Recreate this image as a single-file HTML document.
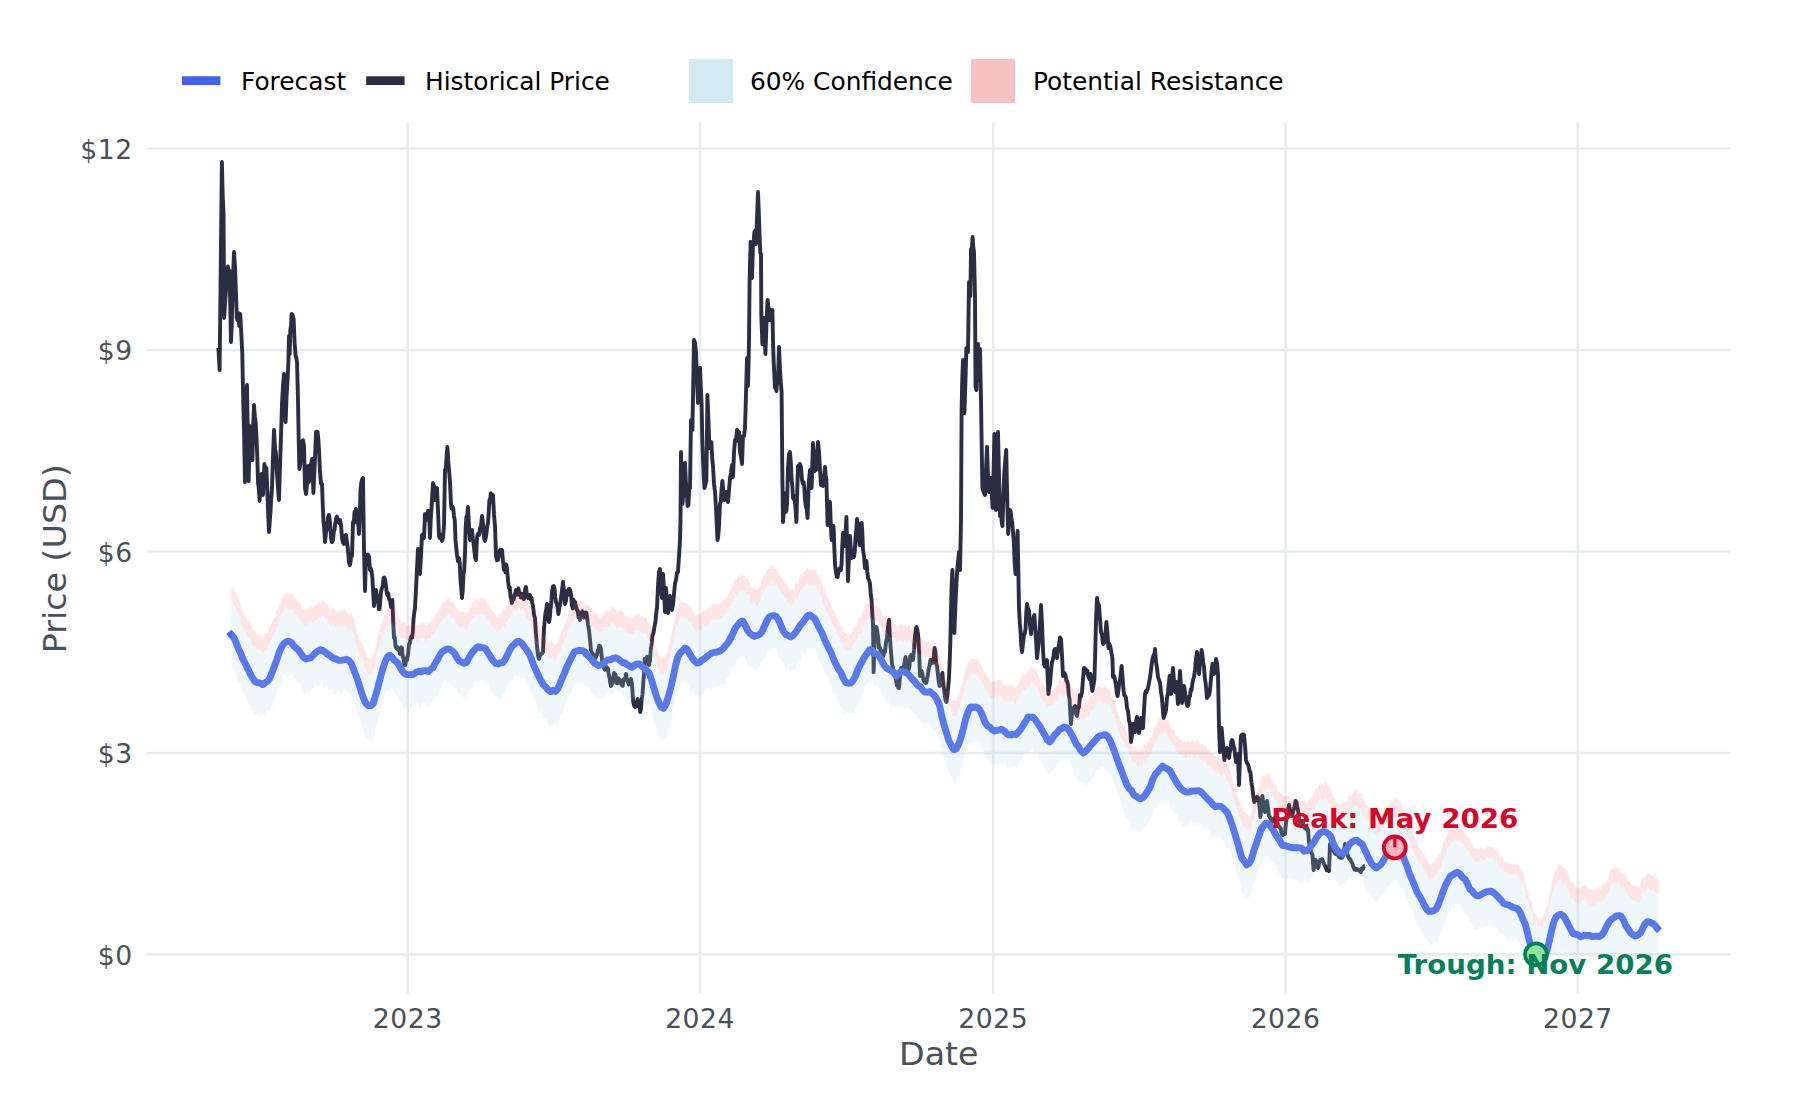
<!DOCTYPE html>
<html lang="en"><head><meta charset="utf-8"><title>Price Forecast</title>
<style>html,body{margin:0;padding:0;background:#fff}svg{display:block}</style></head>
<body>
<svg width="1800" height="1100" viewBox="0 0 1800 1100" font-family="'DejaVu Sans','Liberation Sans',sans-serif">
<rect width="1800" height="1100" fill="#fff"/>
<g stroke="#e9ecef" stroke-width="2.6" fill="none">
<line x1="146.8" x2="1730.6" y1="148.5" y2="148.5"/>
<line x1="146.8" x2="1730.6" y1="350" y2="350"/>
<line x1="146.8" x2="1730.6" y1="551.5" y2="551.5"/>
<line x1="146.8" x2="1730.6" y1="753" y2="753"/>
<line x1="146.8" x2="1730.6" y1="954.4" y2="954.4"/>
<line x1="407.7" x2="407.7" y1="122.6" y2="993.7"/>
<line x1="700.05" x2="700.05" y1="122.6" y2="993.7"/>
<line x1="993.2" x2="993.2" y1="122.6" y2="993.7"/>
<line x1="1285.55" x2="1285.55" y1="122.6" y2="993.7"/>
<line x1="1577.9" x2="1577.9" y1="122.6" y2="993.7"/>
</g>
<polyline points="218.4,348 219.6,370 220.4,299.9 221.1,232.4 221.9,162 222.7,195.2 223.5,213 224.2,318 224.9,306 225.6,295.1 226.3,284.9 227,272 227.9,266.5 228.7,271.5 229.6,271 230.3,308.5 231,342 231.8,324 232.5,290.6 233.2,271.3 234,252 235,266.3 236,294 236.8,318 237.5,320.3 238.2,313 239.2,326 240.2,314 241.3,334 242.3,354 243.2,399.3 244.1,433.5 245,482 246,439.7 247,385 247.8,439 248.6,481 249.3,455.4 250,426 250.8,438.8 251.6,444.4 252.4,460 253.2,426.3 254,405 254.9,417 255.7,422.6 256.6,440 257.3,457.2 258,482 258.8,488.5 259.6,501 260.6,482 261.6,474 262.3,484.1 263,495 263.7,478.8 264.4,464 265.4,470.2 266.4,468 267.3,489.6 268.1,512.2 269,532 269.8,521 270.5,511.8 271.2,498.5 272,488 273,456.3 274,430 275,448.3 276,454 276.8,471.5 277.5,481 278.2,490.9 279,500 280,465.8 281,436 282,404 283,385.3 284,374 284.8,395.1 285.6,422 286.6,395.2 287.6,380 288.4,362 289,336 289.7,354 290.3,330 291,326.1 291.6,314 292.6,315 293.6,319 294.6,342.7 295.6,356 296.3,357.4 297,362 298,400 298.7,440.4 299.4,469 300.3,464.3 301.1,444.8 302,442 303,440.3 304,446 305,488 306,494 307,484.9 308,466 309,482 309.8,475.9 310.5,476.3 311.2,463.5 312,459 312.7,470.9 313.4,493 314.3,474.2 315.1,455.8 316,432 316.8,431.7 317.6,432.1 318.4,440 319.2,453.9 320,472 321,483.5 322,484 322.8,505.9 323.5,522 324.2,527.9 325,542 326,532.3 327,528 328,517.1 329,515 330,521.7 331,538 332,542.1 333,540 333.8,531.3 334.5,530.1 335.2,523.7 336,519 337,516.6 338,521 339,523 340,520 341,525 342,538 343,542.5 344,544 345,535.5 346,535 346.8,540.9 347.5,545.5 348.2,552.9 349,562 349.8,565.2 350.5,562.1 351.2,555.5 352,556 353,522 353.8,523 354.5,512.3 355.2,511.1 356,509 356.8,519.2 357.5,523 358.2,523.4 359,534 359.8,517.4 360.5,490 361.3,482.6 362.2,479.2 363,478 364,550 365,591 366,556 366.8,559 367.5,554.8 368.2,554.7 369,557 370,570 370.8,568.5 371.6,571.3 372.4,578 373.2,592.8 374,606 375,595.6 376,590 376.7,594.7 377.4,596.4 378.2,601 378.9,609.4 379.6,609 380.3,600.4 381,592 381.9,588 382.7,586.2 383.6,578 384.4,577.6 385.2,580 386,586 386.8,593.1 387.5,595.5 388.2,593.4 389,599 390,600.2 391,607 391.7,605.7 392.4,600 393.2,622.9 394,638 394.8,637.7 395.5,646.2 396.2,647.9 397,647 397.8,649.6 398.5,649.9 399.2,649.1 400,654 401,647.3 402,648 402.8,657.4 403.6,657.3 404.4,665 405.3,664.9 406.1,659.8 407,660 408,654.6 409,644 409.8,643.3 410.5,639.3 411.2,636.8 412,638 412.8,632.4 413.5,619.3 414.2,613.1 415,608 416,588.6 417,568 418,549 419,565 420,574 421,555.7 422,535 423,534.2 424,538 425,514 426,520.1 427,517 428,510.7 429,511 430,538 430.8,519 431.5,507.9 432.2,496.1 433,483 434,486.4 435,500 436,490.3 437,488 438,510.5 439,536 439.8,538 440.5,534.6 441.2,538.3 442,541 443,537.7 444,526 445,470 445.8,468.2 446.6,456.6 447.4,447 448.2,460.9 449,470 450,482 451,505 451.8,508.7 452.5,506.5 453.2,508.1 454,516 454.8,520.5 455.5,539.9 456.2,547.3 457,555 458,561.2 459,558 459.8,563.3 460.5,579.3 461.2,587.8 462,598 462.8,589.2 463.5,574.2 464.2,570 465,554 465.6,529 466.4,517 467.2,514.8 468,507 469,526.1 470,540 471,539.2 472,530 472.8,538.5 473.6,544.1 474.4,551 475.2,558.2 476,560 477,538 477.8,533.9 478.5,535 479.2,534.8 480,528 481,526 482,516 482.8,521.3 483.5,531.6 484.2,538.6 485,541 485.8,537.3 486.5,533.3 487.2,526.2 488,523 488.7,512.4 489.4,500 490.1,500.2 490.8,493.2 491.6,498.6 492.3,501.7 493,495 494,514.7 495,526 496,556 497,560.3 498,560 499,553.9 500,550 501,552.4 502,550 503,560.8 504,570 504.8,568.9 505.5,572.3 506.2,564.4 507,568 508,580.4 509,588 509.8,587.3 510.5,596.4 511.2,599.1 512,603 512.8,597.9 513.6,599.6 514.4,595.2 515.2,593.7 516,590 516.8,594.9 517.6,589.7 518.4,588.4 519.2,592.1 520,595 520.8,597.4 521.5,593.7 522.2,594.2 523,598 523.8,599 524.5,594 525.2,589.2 526,587 527,596.2 528,598 529,594.9 530,595 530.8,599.3 531.5,597.7 532.2,602.6 533,606 534,614.7 535,618 536,635.5 537,646 538,655.6 539,659 540,655.6 541,654 542,653.7 543,652 544,628 544.8,620.4 545.5,612.8 546.2,610 547,604 548,616 549,622 549.8,617.6 550.5,608.9 551.2,603.6 552,592 552.8,586.9 553.6,586 554.4,588.2 555.2,596.2 556,602 556.8,604 557.6,607.4 558.4,614 559.3,607.9 560.1,604.5 561,598 562,589.9 563,582 564,591.3 565,604 566,600.6 567,591 567.9,594.9 568.7,589.2 569.6,589 570.4,590.7 571.2,596 572,606 572.8,608.4 573.5,599.8 574.2,604.9 575,602 576,606.6 577,610 577.8,610.8 578.5,617.6 579.2,613.3 580,620 580.8,615.3 581.5,616.6 582.2,611.3 583,614 583.8,617.5 584.6,612.9 585.4,612.6 586.2,612.4 587,617 588,624.6 589,630 590,639.6 591,650 592,653 593,654 593.8,655.4 594.6,656.9 595.4,658.3 596.2,656.3 597,655 597.8,650.3 598.5,650.3 599.2,645.6 600,646 601,649.1 602,660 603,663.8 604,668 604.8,669.8 605.6,665.9 606.4,666.9 607.2,667.6 608,669 608.8,674.7 609.5,677.7 610.2,682.6 611,686 611.8,684.6 612.5,678.7 613.2,678.4 614,673 614.8,678.3 615.5,674.4 616.2,683 617,682 617.8,683.1 618.5,678.3 619.2,680.2 620,680 621,683.4 622,685 622.8,685.8 623.6,679.7 624.4,678.9 625.2,679 626,674 627,680.2 628,682 628.8,684.5 629.5,680.2 630.2,680.9 631,679 631.7,682.3 632.4,690 633.2,702 634.2,706 635.1,707 636,706.5 636.8,702.7 637.7,699 638.5,704.8 639.4,705.7 640.2,712 640.9,709.2 641.5,701 642.5,694.5 643.4,681 644,673.7 644.7,659 645.5,659 646.2,660.8 647,656.8 647.8,658 648.5,664.7 649.1,665 650,660.5 650.8,649.1 651.7,643 652.5,635.2 653.2,633.8 654,630 654.8,624.9 655.5,621.4 656.2,613.4 657,608 658,585.6 659,572 660,569 661,586.5 662,598 663,574 664,588.9 665,612 666,588 667,603.3 668,613 669,601.5 670,596 671,601.5 672,610 673,604.6 674,594 675,583.6 676,580 677,572.6 678,572 679,556.2 680,540 680.5,520 681,452 681.7,480.7 682.4,504 683.3,494.3 684.1,478.9 685,463 685.9,482.6 686.7,491.6 687.6,506 688.4,505.1 689.2,489.2 690,488 691,420 691.7,421.4 692.4,430 693.2,385.4 694,340 695,342.9 696,352 697,380.7 698,403 699,387.4 700,368 700.8,386.3 701.6,404 702.4,444 703.4,470.2 704.4,488 705.4,484.7 706.4,480 707.4,395 708.4,419 709.4,448 710.4,443.5 711.4,442 712.2,458.3 713,466 714,483.7 715,492 716,507.7 717,530 717.5,540 718.2,536.7 719,526 720,504 720.8,501.7 721.6,488.9 722.4,481 723.4,491.3 724.4,500 725.2,492.6 726,492 727,497.4 728,502 729,490 730,478 731,472.8 732,465 733,477 734,452.7 735,440 736,441 737,430 738,431.2 739,432 740,452 741,456.8 742,464 743,436 744,435.9 745,428 746,393.9 747,358 748,386 749,342 749.6,280 750.6,242 751.3,259.9 752,278 753,244 753.7,241.3 754.4,232 755.2,230.6 756,244 757,218.7 758,192 758.8,212.5 759.6,236 760.3,252.8 761,254 761.3,316 762.4,344 763.2,337.4 764,318 764.7,332.5 765.4,354 766.1,335.6 766.9,312.3 767.6,300 768.6,309 769.6,320 770.4,310 771.4,314.9 772.4,310 773,341 773.6,360 774.3,373.7 775,388 775.7,387 776.4,391 777.2,381.2 778,380 779,347 780,370 780.8,382.7 781.6,392 782.4,480 783,522 783.7,512.3 784.4,493 785,498.3 785.6,512 786.3,511.1 787,504 788,468 789,454.1 790,452 790.8,462.3 791.6,480 792.3,485.8 793,498 793.7,499.1 794.4,496 795.4,507 796.4,522 797.2,492.3 798,466 799,466.5 800,464 801,467.3 802,480 802.8,483.7 803.6,482 804.3,486.6 805,500 805.9,506.1 806.7,509.2 807.6,518 808.3,495.6 809,480 810,470 810.8,479.4 811.6,488 812.3,464.7 813,443 813.7,455.5 814.4,471 815.2,469.5 816,470 817,456.4 818,442 819,451.8 820,470 821,485 822,482 823,486 824,478.1 825,467 825.7,475.2 826.4,480 827,502.8 827.6,525 828.4,521.2 829.2,510.9 830,502 830.8,524.9 831.6,540 832.6,530.1 833.6,526 834.3,547.5 835,564 835.9,571.4 836.7,576.6 837.6,577 838.4,572.2 839.2,569.2 840,568 840.8,570.2 841.6,564 842.3,545.6 843,533 843.7,544.7 844.4,546 845.4,535.6 846.4,517 847.2,545.2 848,581 849,555.9 850,536 850.8,549.3 851.6,558 852.4,555.2 853.2,553.3 854,557 854.8,550.9 855.5,537.2 856.2,531.6 857,519 857.9,523.6 858.7,535.3 859.6,545 860.6,536 861.6,523 862.3,531.4 863,550 864,556 865,568 865.7,566.3 866.4,561 867.3,571.4 868.1,578.2 869,580 869.9,583 870.7,593.4 871.6,600 872.3,614.3 873,624 873.6,672 874.3,650 875,628 875.7,629.1 876.4,627 877.3,631.4 878.1,637.4 879,648 879.8,647.3 880.5,649.3 881.2,655.9 882,658 882.8,656.6 883.5,655.5 884.2,650.7 885,652 886,642.4 887,638 888,626.5 889,620 890,638.9 891,652 892,663.9 893,668 893.8,674.3 894.5,670.9 895.2,673.7 896,680 896.8,685.3 897.5,683.7 898.2,687.9 899,688 900,676.7 901,668 902,669.7 903,672 903.9,667.1 904.7,661.5 905.6,657 906.4,662.8 907.2,663.2 908,672 908.8,669.3 909.5,666.2 910.2,656.7 911,655 912,657.1 913,660 914,649.9 915,636 915.7,630.7 916.4,627 917.4,629.9 918.4,638 919.2,654.3 920,676 920.8,675.4 921.6,671 922.4,674 923.2,679.2 924,680.8 924.8,682.3 925.6,683 926.4,682.7 927.2,678 928,674 928.8,668.6 929.6,665.4 930.4,660 931.4,661.5 932.4,663 933.1,661.8 933.9,655.4 934.6,648 935.4,652.1 936.2,663.2 937,666 937.9,674.5 938.7,681.4 939.6,686 940.5,684 941.5,676.6 942.4,673 943.4,685.4 944.4,692 945.4,699.7 946.4,702 947.3,695.4 948.1,688 949,678 949.7,661.1 950.4,640 951,612.2 951.6,586 952.4,570 953.4,603.5 954.4,633 955.4,604.6 956.4,584 957,573.5 957.6,566 958.3,558.7 959,552 960,570 961,520 961.6,410 962.3,378.2 963,360 963.7,384.5 964.4,413 965.4,382.4 966.4,348 967.2,351.8 968,352 969,282 969.7,284.7 970.4,296 971,249 971.8,250.6 972.6,237 973.3,247.3 974,252 975,296 975.5,386 976.4,390 977.2,364.7 978,344 979,380 980,349 981,400 981.7,446 982.4,488 983.3,491.1 984.1,493 985,495 986,469.7 987,447 988,475.5 989,492 990,486.7 991,478 991.8,495.3 992.6,508 993.5,474.1 994.4,434 995.2,477.8 996,510 997,465.3 998,432 999,475.4 1000,516 1001,514 1001.8,522.6 1002.5,526 1003.4,497.2 1004.2,474 1005.2,460.8 1006.2,450 1007.4,506 1008.2,534 1009.1,517.1 1010,510 1010.8,512.1 1011.5,519.6 1012.2,522.2 1013,532 1013.9,543.4 1014.7,564.1 1015.6,574 1016.6,553 1017.6,531 1018.3,569.6 1019,608 1019.8,623.1 1020.5,630.6 1021.2,645.1 1022,652 1023,644.1 1024,634 1024.8,633.6 1025.6,628 1026.3,612.3 1027,604 1028,608.4 1029,611 1030,624.8 1031,634 1031.8,625.4 1032.7,628.2 1033.6,616.8 1034.4,615 1035.3,629.1 1036.1,640.9 1037,658 1038,649 1039,640 1040,623.5 1041,605 1042,623.7 1043,650 1044,664 1044.8,666.5 1045.5,661.4 1046.2,661.2 1047,660 1047.7,677.7 1048.4,694 1049.2,688 1050,684 1051,671.4 1052,662 1052.8,660 1053.5,656 1054.2,650.5 1055,649 1056,655.2 1057,658 1058,649.4 1059,644 1060,637.5 1061,639 1062,655.5 1063,676 1063.9,672.6 1064.7,673.4 1065.6,676 1066.4,680.9 1067.2,681.2 1068,685 1068.8,695.3 1069.6,700 1070.3,713.7 1071,724 1072,713 1073,708 1074,710.3 1075,706 1076,714 1077,716 1078,708.6 1079,707 1080,695 1081,696.4 1082,692 1083,679.5 1084,668 1084.8,668.5 1085.6,673 1086.4,670 1087.3,670.7 1088.1,675.5 1089,678 1089.7,679.3 1090.4,674 1091.4,684.1 1092.4,691 1093.4,685.3 1094.4,680 1095.2,653.9 1096,620 1097,598 1098,604.4 1099,605 1100,619.4 1101,632 1102,634.8 1103,644 1104,643 1105,640 1105.7,630.6 1106.4,622 1107.4,632.5 1108.4,648 1109.4,643.9 1110.4,647 1111.4,652.7 1112.4,658 1113,677 1114,675.7 1115,680 1115.9,684.9 1116.7,691.9 1117.6,696 1118.4,690.3 1119.2,683.6 1120,680 1120.8,673.6 1121.6,666 1122.6,677.9 1123.6,691 1124.4,695.3 1125.2,695.9 1126,698 1127,707.9 1128,711 1129,720.5 1130,724 1131,742 1132,734.5 1133,724 1134,726.3 1135,732 1136,722 1137,717 1138,727.5 1139,733 1140,727.3 1141,718 1142,723.8 1143,728 1144,710.1 1145,694 1145.8,690.9 1146.5,692.3 1147.2,690 1148,688 1148.8,684.2 1149.5,680 1150.2,676.4 1151,670 1151.9,662.6 1152.7,658 1153.6,655 1154.3,655.9 1155,649 1156,661.8 1157,668 1158,676.9 1159,680 1160,682.6 1161,692 1161.9,697.6 1162.7,707.8 1163.6,718 1164.4,714.8 1165.2,713.5 1166,710 1167,698.2 1168,692 1168.8,684.3 1169.6,676 1170.3,681.9 1171,694 1172,677.9 1173,668 1174,681.3 1175,692 1175.7,687.4 1176.4,682 1177.2,693.9 1178,704 1179,686.6 1180,671 1181,686.8 1182,703 1183,692.4 1184,686 1185,691.9 1186,700 1186.8,704.7 1187.6,706 1188.4,705 1189.2,696.4 1190,696 1190.8,689.3 1191.5,690.2 1192.2,684.9 1193,680 1194,677 1195,670 1196,658.7 1197,652 1198,662.4 1199,674 1199.9,664.1 1200.7,660.5 1201.6,650 1202.4,654.6 1203.2,662.5 1204,667 1204.8,678.2 1205.5,682 1206.2,688.7 1207,698 1207.8,696.3 1208.5,695.8 1209.2,695 1210,690 1210.8,680.8 1211.6,671.7 1212.4,664 1213.2,665.9 1214,674 1215,669.4 1216,659 1217,663.2 1218,674 1219,728 1220,752 1220.8,737.5 1221.6,728 1222.3,736.4 1223,743.9 1223.7,753.1 1224.4,760 1225.3,754.8 1226.1,753.6 1227,748 1228,750.5 1229,758 1229.8,751.8 1230.5,750 1231.2,742 1232,740 1232.8,741.5 1233.6,746.7 1234.4,748 1235.2,756.1 1236,762 1237,756.8 1238,754 1239,785 1240,758.5 1241,736 1241.8,734.9 1242.5,736.9 1243.2,734.4 1244,735 1245,745.2 1246,760 1247,763.2 1248,764 1248.8,767 1249.6,771.6 1250.4,772 1251.4,782.3 1252.4,788 1253.4,797 1254.4,802 1255.3,800 1256.1,800.1 1257,797 1258,797.6 1259,800 1259.7,807.7 1260.4,817 1261.4,806 1262.4,796 1263.3,803.4 1264.1,808.5 1265,812 1266,805.3 1267,801 1268,807.9 1269,816 1269.8,816.9 1270.5,818.4 1271.2,820 1272,822 1272.8,820.5 1273.5,818.7 1274.2,819.3 1275,818 1275.8,820.8 1276.5,821.2 1277.2,823.9 1278,824 1279,826.3 1280,828 1280.8,828.4 1281.5,832.6 1282.2,834.8 1283,835 1284,833.6 1285,834 1285.7,825 1286.4,820 1287.3,815.1 1288.1,810.2 1289,805 1290,810.8 1291,816 1292,816.1 1293,812 1293.9,809 1294.7,806.1 1295.6,801 1296.4,802 1297.2,807.2 1298,810 1299,818.3 1300,824 1300.8,821.7 1301.5,821.2 1302.2,823.5 1303,822 1304,826.7 1305,828 1305.8,826.8 1306.5,829.6 1307.2,828 1308,830 1309,842 1310,847.9 1311,852 1311.7,853.5 1312.4,854 1313.6,870 1314.6,864.1 1315.6,860 1316.4,861.7 1317.2,866.2 1318,868 1319,864.1 1320,860 1321,860.4 1322,859 1323,861.1 1324,864 1325,865.5 1326,868 1326.8,870.3 1327.5,870.1 1328.2,870.2 1329,871 1330,844 1331,845.1 1332,846 1333,849.8 1334,852 1334.8,853 1335.5,854 1336.2,852.4 1337,853 1337.8,855.2 1338.5,855.6 1339.2,857.3 1340,857 1340.8,857.8 1341.5,857.7 1342.2,857.6 1343,856 1344,851.7 1345,844 1346,849.5 1347,854 1347.8,855.3 1348.5,857.2 1349.2,858.8 1350,859 1350.8,860.5 1351.5,862.2 1352.2,863.1 1353,866 1353.8,867.8 1354.5,869.6 1355.2,868.6 1356,870 1356.8,869.1 1357.6,869.4 1358.4,870.4 1359.2,870.1 1360,871 1360.8,872 1361.5,868.6 1362.2,868.9 1363,869 1364,866.2 1365,866" fill="none" stroke="#2b2d42" stroke-width="3.9" stroke-linejoin="round" stroke-linecap="butt"/>
<polyline points="229,631.9 231.4,634.8 233.8,637.5 236.2,642.9 238.6,649.1 241,653.9 243.4,660.2 245.8,664.7 248.2,669.4 250.6,674.4 253,678.9 255.4,681.8 257.8,682.7 260.2,683.1 262.6,684.6 265,682.9 267.4,681.3 269.8,678.3 272.2,672.1 274.6,665.8 277,659.4 279.4,651.7 281.8,646.7 284.2,643.2 286.6,641.6 289,641.2 291.4,642.5 293.8,646 296.2,648.1 298.6,650.3 301,653.7 303.4,657.3 305.8,659.1 308.2,658.3 310.6,657.9 313,655.4 315.4,652.9 317.8,651.2 320.2,649.7 322.6,650.3 325,651.9 327.4,654.2 329.8,655.3 332.2,657.5 334.6,658.6 337,659.5 339.4,660.4 341.8,660.2 344.2,659.9 346.6,659.3 349,660.5 351.4,663.6 353.8,669.8 356.2,676.2 358.6,683.1 361,690.8 363.4,698 365.8,703.2 368.2,705.6 370.6,705.9 373,703.9 375.4,696.1 377.8,687.9 380.2,678.4 382.6,669.6 385,662.1 387.4,656.8 389.8,655.2 392.2,657.5 394.6,660.5 397,662.1 399.4,665.9 401.8,670.4 404.2,673.4 406.6,674.6 409,674.6 411.4,674.8 413.8,674.1 416.2,672.2 418.6,671.4 421,671.9 423.4,670.6 425.8,670.6 428.2,671.6 430.6,669.1 433,667.6 435.4,663 437.8,659.1 440.2,654.5 442.6,651.4 445,650 447.4,648.9 449.8,649.4 452.2,650.9 454.6,653.4 457,657.9 459.4,661.1 461.8,662.1 464.2,663.3 466.6,662.5 469,657.7 471.4,653.8 473.8,650.7 476.2,647.8 478.6,646.6 481,647.9 483.4,647.8 485.8,648.9 488.2,652.9 490.6,657 493,660.5 495.4,663.4 497.8,664 500.2,662.9 502.6,662.9 505,659.8 507.4,654.9 509.8,649.9 512.2,646 514.6,644.3 517,641.6 519.4,641.4 521.8,643.4 524.2,646.7 526.6,649.6 529,653.3 531.4,659.1 533.8,665.6 536.2,670.7 538.6,676.1 541,680.7 543.4,685 545.8,687.1 548.2,689.9 550.6,691.6 553,690.3 555.4,691.4 557.8,688.9 560.2,683 562.6,677.5 565,671.6 567.4,665.7 569.8,660.8 572.2,656.1 574.6,651.9 577,650.9 579.4,650.5 581.8,650.6 584.2,651.5 586.6,654.5 589,656.7 591.4,659.2 593.8,662.4 596.2,664.2 598.6,665.6 601,664.8 603.4,663.9 605.8,661.1 608.2,659.6 610.6,659.7 613,658.4 615.4,657.8 617.8,658.8 620.2,660.5 622.6,662.7 625,662.8 627.4,664.8 629.8,666.2 632.2,667.2 634.6,664.9 637,664 639.4,663.9 641.8,666.5 644.2,668.1 646.6,670.7 649,672.8 651.4,679.4 653.8,687.5 656.2,695.6 658.6,702 661,706.8 663.4,708.3 665.8,704.8 668.2,697 670.6,688.6 673,678 675.4,666.2 677.8,656.9 680.2,652.8 682.6,650.6 685,648.1 687.4,649.4 689.8,654.2 692.2,657.9 694.6,661.1 697,663 699.4,662.5 701.8,660.2 704.2,658.9 706.6,656.9 709,655 711.4,653.4 713.8,652.4 716.2,652.2 718.6,651.5 721,650.4 723.4,648.3 725.8,645.4 728.2,642.5 730.6,638.3 733,633.2 735.4,627.9 737.8,624.9 740.2,622.3 742.6,621 745,624.7 747.4,630.2 749.8,633.3 752.2,635.1 754.6,636.4 757,635.4 759.4,634.6 761.8,632 764.2,626.8 766.6,621.5 769,617.2 771.4,616 773.8,615.7 776.2,616.3 778.6,620 781,625.8 783.4,631.4 785.8,634.5 788.2,635.4 790.6,637 793,635.6 795.4,632.6 797.8,629.1 800.2,625.3 802.6,622.6 805,619.5 807.4,615.9 809.8,614.9 812.2,616.8 814.6,618.5 817,623.1 819.4,628.2 821.8,632.6 824.2,638.8 826.6,643.9 829,648.7 831.4,653.4 833.8,659.9 836.2,664.7 838.6,669.4 841,672.6 843.4,678.4 845.8,682.6 848.2,683.2 850.6,683.1 853,680.7 855.4,676.2 857.8,669.7 860.2,664.9 862.6,660.3 865,656.4 867.4,652.8 869.8,649.7 872.2,650.3 874.6,653.8 877,653.9 879.4,656.3 881.8,660.9 884.2,665.3 886.6,668.3 889,669.3 891.4,671 893.8,672.7 896.2,676.1 898.6,673.7 901,671.7 903.4,671.7 905.8,672.7 908.2,674 910.6,677.1 913,679.8 915.4,682.2 917.8,685.5 920.2,686.4 922.6,689.9 925,692.1 927.4,692.2 929.8,691.5 932.2,693.6 934.6,695.6 937,699.4 939.4,704.9 941.8,716.1 944.2,725.4 946.6,733.4 949,741 951.4,745.8 953.8,749.7 956.2,748.8 958.6,744.2 961,737.6 963.4,728.4 965.8,718.3 968.2,711.5 970.6,707 973,707.5 975.4,707 977.8,707.7 980.2,710.6 982.6,716.1 985,722.3 987.4,725.7 989.8,727 992.2,729.7 994.6,731.1 997,730.3 999.4,729.9 1001.8,729.4 1004.2,730.9 1006.6,733.5 1009,734.9 1011.4,734.8 1013.8,734.2 1016.2,734.5 1018.6,731.9 1021,728.6 1023.4,725 1025.8,721.1 1028.2,716.9 1030.6,717.3 1033,717.2 1035.4,719.9 1037.8,723.4 1040.2,726.9 1042.6,731.5 1045,735.4 1047.4,739.8 1049.8,741.9 1052.2,738.6 1054.6,735.1 1057,732.7 1059.4,729.5 1061.8,728.5 1064.2,727 1066.6,727.8 1069,730.2 1071.4,734.2 1073.8,738.6 1076.2,744 1078.6,746.9 1081,751.1 1083.4,752.9 1085.8,751.2 1088.2,748.7 1090.6,745.3 1093,742.8 1095.4,740.1 1097.8,737.2 1100.2,735.6 1102.6,735.3 1105,734.6 1107.4,736 1109.8,740 1112.2,745.5 1114.6,751.8 1117,758.8 1119.4,765.7 1121.8,771.3 1124.2,778.1 1126.6,784.4 1129,788.2 1131.4,790.5 1133.8,795 1136.2,796.1 1138.6,798.1 1141,798.7 1143.4,797.1 1145.8,794.2 1148.2,790.4 1150.6,785.8 1153,778.6 1155.4,774.2 1157.8,771.6 1160.2,768.6 1162.6,766 1165,767.7 1167.4,769 1169.8,770.5 1172.2,774.9 1174.6,779 1177,783.2 1179.4,786.6 1181.8,789.4 1184.2,791.2 1186.6,792 1189,792.1 1191.4,791.1 1193.8,791 1196.2,790.9 1198.6,790.7 1201,791.9 1203.4,794.2 1205.8,797.1 1208.2,799.6 1210.6,801.7 1213,804.6 1215.4,806.8 1217.8,806.1 1220.2,806.1 1222.6,807.8 1225,810 1227.4,812.8 1229.8,818.6 1232.2,825 1234.6,832.9 1237,840.7 1239.4,849.5 1241.8,858 1244.2,861 1246.6,864.9 1249,863.4 1251.4,859.4 1253.8,850.7 1256.2,844 1258.6,836.9 1261,829.4 1263.4,826.1 1265.8,823.1 1268.2,823.6 1270.6,826.5 1273,829.6 1275.4,834.5 1277.8,837.6 1280.2,841.4 1282.6,845.5 1285,845.5 1287.4,846.2 1289.8,847.2 1292.2,847.7 1294.6,847.7 1297,847.5 1299.4,847.8 1301.8,848.3 1304.2,851.2 1306.6,850.8 1309,848.8 1311.4,845.5 1313.8,842.8 1316.2,838.2 1318.6,834.6 1321,832.4 1323.4,831.4 1325.8,832 1328.2,833.7 1330.6,836 1333,842.7 1335.4,848 1337.8,851 1340.2,853 1342.6,854.3 1345,852.1 1347.4,847.9 1349.8,844 1352.2,841.9 1354.6,840.4 1357,840.1 1359.4,842.5 1361.8,843.6 1364.2,848.6 1366.6,853.7 1369,858.8 1371.4,863 1373.8,866.2 1376.2,867.9 1378.6,866.1 1381,864.4 1383.4,860.7 1385.8,856.5 1388.2,853.3 1390.6,850.3 1393,849.1 1395.4,846.9 1397.8,848.4 1400.2,851.5 1402.6,854.9 1405,861.2 1407.4,867.3 1409.8,874.5 1412.2,879.9 1414.6,885.7 1417,892 1419.4,895.9 1421.8,899.9 1424.2,905 1426.6,909.3 1429,911.4 1431.4,911.3 1433.8,910.7 1436.2,909.1 1438.6,903.6 1441,897.4 1443.4,890.5 1445.8,884.6 1448.2,879.9 1450.6,875.8 1453,874.7 1455.4,872.9 1457.8,872.5 1460.2,874.1 1462.6,877.4 1465,879.2 1467.4,883.7 1469.8,889 1472.2,891 1474.6,894.3 1477,895.7 1479.4,895.7 1481.8,894.1 1484.2,892.7 1486.6,891.7 1489,891.3 1491.4,891.2 1493.8,892.7 1496.2,895 1498.6,897.5 1501,899.9 1503.4,903.4 1505.8,904.4 1508.2,904.6 1510.6,906.1 1513,907.4 1515.4,907.8 1517.8,909.1 1520.2,912.5 1522.6,918.5 1525,923.7 1527.4,932.7 1529.8,942.7 1532.2,949.1 1534.6,953.8 1537,954.4 1539.4,954.4 1541.8,954.4 1544.2,954.4 1546.6,951.6 1549,942.4 1551.4,931.1 1553.8,922.2 1556.2,916.9 1558.6,914.9 1561,914.3 1563.4,915.9 1565.8,919.5 1568.2,924.7 1570.6,929.1 1573,933.6 1575.4,934.3 1577.8,934.7 1580.2,936.7 1582.6,936.2 1585,935.2 1587.4,935.4 1589.8,935.4 1592.2,936.6 1594.6,936.3 1597,936.3 1599.4,936.5 1601.8,935.1 1604.2,931.7 1606.6,926.4 1609,922 1611.4,919.4 1613.8,917.7 1616.2,915.9 1618.6,915.6 1621,916.2 1623.4,919.8 1625.8,925.5 1628.2,929 1630.6,932.7 1633,934.9 1635.4,936.1 1637.8,935 1640.2,933.3 1642.6,928.9 1645,923.8 1647.4,921.7 1649.8,922.2 1652.2,923.2 1654.6,924.8 1657,928.3 1659.4,930.7" fill="none" stroke="#4361ee" stroke-width="6.9" stroke-linejoin="round" stroke-linecap="butt"/>
<polygon points="231.4,603.7 232.2,602.6 233,603.2 233.8,605.6 234.6,604.7 235.4,609.5 236.2,606.7 237,611.6 237.8,612.4 238.6,613.2 239.4,617.2 240.2,618.8 241,623.3 241.8,624.9 242.6,625.6 243.4,628.3 244.2,630.1 245,628.5 245.8,633.5 246.6,635.2 247.4,637.8 248.2,637.8 249,637.5 249.8,637.5 250.6,641.2 251.4,640.4 252.2,644.8 253,644.9 253.8,647.3 254.6,646.1 255.4,646.8 256.2,650.2 257,649.9 257.8,649.2 258.6,650.4 259.4,650.1 260.2,651.3 261,651.2 261.8,650.4 262.6,654 263.4,653.2 264.2,652.3 265,649.3 265.8,648.2 266.6,649.8 267.4,649 268.2,647.2 269,643.4 269.8,644 270.6,641.3 271.4,638.9 272.2,638.1 273,635.6 273.8,634.9 274.6,633 275.4,632.2 276.2,626 277,626.2 277.8,625.7 278.6,622.7 279.4,619.9 280.2,619.2 281,613.4 281.8,615.5 282.6,612.8 283.4,611.7 284.2,609 285,609.7 285.8,606.5 286.6,608.5 287.4,607.1 288.2,610.6 289,610.1 289.8,608.8 290.6,610.2 291.4,608.4 292.2,610 293,609 293.8,613.5 294.6,613.8 295.4,615.4 296.2,612.8 297,617.6 297.8,614.7 298.6,618.5 299.4,619 300.2,618.5 301,621.4 301.8,624.5 302.6,624.6 303.4,623.7 304.2,626.7 305,624.6 305.8,627.3 306.6,624.9 307.4,623.1 308.2,626.9 309,622.4 309.8,622.8 310.6,624.5 311.4,621 312.2,622.6 313,623.1 313.8,621.5 314.6,619.9 315.4,621.2 316.2,621 317,619.4 317.8,619 318.6,617.3 319.4,617.8 320.2,620.2 321,620 321.8,615.1 322.6,616.1 323.4,615.9 324.2,619.2 325,617 325.8,617.3 326.6,621 327.4,618.9 328.2,624 329,622.1 329.8,625 330.6,625.1 331.4,622.7 332.2,625.8 333,624 333.8,623.9 334.6,623.4 335.4,626.9 336.2,626.9 337,626 337.8,628.6 338.6,625.3 339.4,626.6 340.2,624.9 341,626.3 341.8,628.6 342.6,626.6 343.4,624.9 344.2,624.8 345,627 345.8,625.2 346.6,628.9 347.4,625.1 348.2,629.9 349,629 349.8,630.7 350.6,628.8 351.4,628.6 352.2,630 353,634 353.8,633.6 354.6,636.6 355.4,642.3 356.2,645.5 357,648.1 357.8,650.5 358.6,651.3 359.4,655.2 360.2,656.5 361,658 361.8,659.2 362.6,659.2 363.4,661.5 364.2,664 365,667.4 365.8,667.6 366.6,673.5 367.4,672.8 368.2,674.4 369,675.5 369.8,672.6 370.6,675.6 371.4,675.2 372.2,671.4 373,669.2 373.8,670.3 374.6,668.2 375.4,665.1 376.2,659.7 377,657.2 377.8,651.4 378.6,648.9 379.4,646.1 380.2,645.1 381,638.8 381.8,640.4 382.6,632.8 383.4,635.4 384.2,629.4 385,631.1 385.8,629.3 386.6,629 387.4,625.1 388.2,625.4 389,622.1 389.8,624.7 390.6,620.9 391.4,624.8 392.2,623.8 393,621.9 393.8,626.5 394.6,624.1 395.4,623.8 396.2,625.5 397,625.9 397.8,629.1 398.6,632.8 399.4,635.9 400.2,635.7 401,638 401.8,638.6 402.6,639 403.4,637.9 404.2,638 405,638 405.8,640.6 406.6,639.3 407.4,642.4 408.2,640.3 409,641.8 409.8,641.1 410.6,641.3 411.4,638.9 412.2,638.9 413,640.8 413.8,638.7 414.6,640.8 415.4,642.1 416.2,639.4 417,642.2 417.8,640.1 418.6,641.9 419.4,639.6 420.2,640.4 421,639.8 421.8,637.4 422.6,638.8 423.4,639 424.2,639 425,640.2 425.8,641.6 426.6,640.8 427.4,640.8 428.2,637 429,639.5 429.8,638.2 430.6,639.2 431.4,634.1 432.2,634 433,636.9 433.8,633.2 434.6,633.7 435.4,631.3 436.2,629 437,627.9 437.8,627 438.6,627.9 439.4,624.2 440.2,624.2 441,620.2 441.8,621 442.6,619.4 443.4,619 444.2,619.1 445,614.6 445.8,618.3 446.6,616.1 447.4,614.3 448.2,614.8 449,613.3 449.8,614.5 450.6,618.1 451.4,618.1 452.2,619.4 453,616.6 453.8,617.2 454.6,619.6 455.4,621.5 456.2,624.1 457,623.3 457.8,626.4 458.6,626.6 459.4,625.9 460.2,629.1 461,626 461.8,628.9 462.6,626.9 463.4,626.6 464.2,628.7 465,628.8 465.8,629.4 466.6,627.8 467.4,629.5 468.2,627.4 469,623.6 469.8,621.4 470.6,624.6 471.4,620.8 472.2,618.6 473,617.2 473.8,618.6 474.6,615.2 475.4,615.2 476.2,615.8 477,614 477.8,615.2 478.6,616.2 479.4,615.3 480.2,614.2 481,614 481.8,612.5 482.6,614.4 483.4,614.7 484.2,615.3 485,615.3 485.8,617.5 486.6,616.1 487.4,619.5 488.2,621.8 489,618.9 489.8,620.9 490.6,625.7 491.4,623 492.2,627.9 493,628 493.8,626.6 494.6,630.4 495.4,627.7 496.2,632.8 497,630.4 497.8,633.6 498.6,633 499.4,629 500.2,630 501,628 501.8,630.6 502.6,626.6 503.4,626.2 504.2,625 505,627.5 505.8,623 506.6,621.8 507.4,620.4 508.2,619.8 509,617.6 509.8,618.8 510.6,614.6 511.4,613.8 512.2,614 513,610.3 513.8,609 514.6,611.7 515.4,609.1 516.2,611.8 517,611 517.8,608.6 518.6,608.4 519.4,607.1 520.2,611.1 521,609.2 521.8,609.2 522.6,608.9 523.4,609.8 524.2,614.1 525,611.9 525.8,615.6 526.6,617.1 527.4,618.4 528.2,619.6 529,620.9 529.8,621.8 530.6,626.8 531.4,629 532.2,629.7 533,629.5 533.8,634.1 534.6,632.3 535.4,634.2 536.2,637.8 537,640.4 537.8,641.2 538.6,640.1 539.4,645.6 540.2,643.3 541,646.1 541.8,650.6 542.6,650.9 543.4,652.3 544.2,649.8 545,654.2 545.8,653 546.6,652.5 547.4,656.7 548.2,658.2 549,655.1 549.8,657.4 550.6,659.6 551.4,657.5 552.2,657.4 553,659.8 553.8,658.4 554.6,661.4 555.4,660.4 556.2,659.8 557,658.1 557.8,654.3 558.6,655.1 559.4,652.9 560.2,650.8 561,649.1 561.8,646.2 562.6,643.7 563.4,644.9 564.2,640.6 565,637.4 565.8,639.5 566.6,635.2 567.4,634.1 568.2,630.1 569,627.4 569.8,626.2 570.6,627.3 571.4,623.1 572.2,625.3 573,620.6 573.8,622.6 574.6,617.6 575.4,618.1 576.2,615.5 577,615.2 577.8,616.6 578.6,615.6 579.4,616.5 580.2,614.7 581,615.7 581.8,615.6 582.6,618.8 583.4,615.5 584.2,617.8 585,620.2 585.8,620.1 586.6,619.1 587.4,623.3 588.2,619.5 589,620.8 589.8,621.2 590.6,624.4 591.4,627.5 592.2,626.1 593,626.8 593.8,629.6 594.6,627.1 595.4,627.4 596.2,631 597,628.7 597.8,631.6 598.6,630.1 599.4,632.7 600.2,633.7 601,631.8 601.8,630.6 602.6,631.3 603.4,630.9 604.2,627.1 605,627.3 605.8,627.1 606.6,627.6 607.4,625.9 608.2,627.8 609,625.3 609.8,628.1 610.6,624.6 611.4,623.6 612.2,622.2 613,622.6 613.8,623.1 614.6,626.6 615.4,625 616.2,625.8 617,628.5 617.8,628.8 618.6,628.1 619.4,625.7 620.2,626.3 621,627.5 621.8,626.9 622.6,628 623.4,628 624.2,628.9 625,632 625.8,631.9 626.6,631.9 627.4,632.4 628.2,633.1 629,634 629.8,631 630.6,634.9 631.4,633.2 632.2,632.9 633,635.3 633.8,633.7 634.6,631.4 635.4,629.3 636.2,630.9 637,630.5 637.8,630.4 638.6,628.9 639.4,631.5 640.2,630.2 641,633 641.8,632.4 642.6,631.8 643.4,634.5 644.2,633.3 645,632.1 645.8,633.7 646.6,633.7 647.4,636.5 648.2,639.5 649,641.2 649.8,641.8 650.6,641.4 651.4,644.1 652.2,646.6 653,650.1 653.8,654.3 654.6,654.2 655.4,659.5 656.2,662.2 657,666.3 657.8,669.6 658.6,669.4 659.4,672 660.2,671.7 661,673.4 661.8,674.9 662.6,672.3 663.4,674.2 664.2,673.2 665,671.2 665.8,670.1 666.6,671 667.4,666.6 668.2,663.5 669,660.9 669.8,659 670.6,655 671.4,650.9 672.2,646.8 673,642.5 673.8,639.8 674.6,636.4 675.4,629.8 676.2,628.8 677,624.5 677.8,625.4 678.6,623.3 679.4,617.9 680.2,619 681,616.3 681.8,615 682.6,618.4 683.4,618.6 684.2,618.5 685,617.8 685.8,619.7 686.6,618.1 687.4,619.7 688.2,620.5 689,622.5 689.8,623.2 690.6,621.6 691.4,622.2 692.2,624.8 693,626.6 693.8,627.1 694.6,630.7 695.4,631.4 696.2,631.3 697,630.2 697.8,630.9 698.6,627.9 699.4,630.9 700.2,627.2 701,630.7 701.8,628.5 702.6,626.7 703.4,625.5 704.2,627.1 705,625.9 705.8,627 706.6,623.4 707.4,626.7 708.2,623.9 709,623.7 709.8,624.3 710.6,623.1 711.4,621.8 712.2,620.1 713,620.3 713.8,618.1 714.6,618.8 715.4,621.1 716.2,618 717,617.7 717.8,621 718.6,618.8 719.4,619.6 720.2,619.2 721,619.5 721.8,616.7 722.6,618.4 723.4,613.6 724.2,617.2 725,613.4 725.8,614.5 726.6,611.5 727.4,612.7 728.2,609.2 729,609.1 729.8,606 730.6,606.6 731.4,604.8 732.2,600.7 733,601.5 733.8,600.4 734.6,595.8 735.4,594.1 736.2,595.8 737,595.1 737.8,590.5 738.6,592.5 739.4,592.7 740.2,589.3 741,591.8 741.8,589.1 742.6,591.9 743.4,590.6 744.2,591.3 745,590.4 745.8,594 746.6,595.2 747.4,594.4 748.2,594.2 749,595.7 749.8,597.9 750.6,602.9 751.4,602.8 752.2,604.2 753,603.6 753.8,601.2 754.6,602.7 755.4,605.8 756.2,605.7 757,606.5 757.8,605.2 758.6,604.2 759.4,603.4 760.2,602.8 761,598.9 761.8,594.9 762.6,594.2 763.4,591 764.2,590.7 765,590.6 765.8,587.7 766.6,586.2 767.4,584.2 768.2,584.5 769,584.7 769.8,584.3 770.6,585.3 771.4,580.3 772.2,581.2 773,580.1 773.8,584.8 774.6,583.9 775.4,584.4 776.2,585.7 777,582.4 777.8,588 778.6,586.4 779.4,590.1 780.2,590.3 781,593.7 781.8,592.8 782.6,594.2 783.4,595.2 784.2,598.7 785,598.7 785.8,598.5 786.6,600.2 787.4,602.2 788.2,602.5 789,604.4 789.8,606.2 790.6,605.4 791.4,606.4 792.2,603.8 793,606 793.8,605.2 794.6,602.1 795.4,598.5 796.2,597.7 797,599.8 797.8,599.3 798.6,597.3 799.4,594.3 800.2,592.9 801,589.6 801.8,590.5 802.6,591.3 803.4,586.7 804.2,587.6 805,587.4 805.8,585.6 806.6,583.5 807.4,582.6 808.2,584.9 809,585.7 809.8,585.8 810.6,583.7 811.4,585.3 812.2,585.9 813,584.3 813.8,586.5 814.6,585 815.4,585.3 816.2,585.5 817,590.2 817.8,591.6 818.6,589.9 819.4,591.2 820.2,594.2 821,595.5 821.8,600.4 822.6,599.8 823.4,603.7 824.2,605.5 825,606.4 825.8,610.7 826.6,610.5 827.4,612.7 828.2,614.8 829,615.6 829.8,616.5 830.6,622 831.4,622.9 832.2,624 833,625.1 833.8,627 834.6,627.1 835.4,628 836.2,631.6 837,635.4 837.8,633.2 838.6,639.4 839.4,637.8 840.2,642.5 841,642.3 841.8,641.6 842.6,642.6 843.4,647.1 844.2,648.8 845,649 845.8,648.7 846.6,649 847.4,650.7 848.2,650.9 849,651.2 849.8,648.5 850.6,650.7 851.4,650.3 852.2,647.6 853,643.7 853.8,642.9 854.6,643.9 855.4,641.5 856.2,642.6 857,639.3 857.8,638.1 858.6,633.6 859.4,634 860.2,633.5 861,633 861.8,631.4 862.6,626.9 863.4,626.1 864.2,626.5 865,620.7 865.8,619.5 866.6,618.5 867.4,620.7 868.2,618.5 869,620.2 869.8,619.9 870.6,619.7 871.4,615.8 872.2,618.9 873,619.6 873.8,620 874.6,621.1 875.4,621.5 876.2,621.1 877,622.6 877.8,621.6 878.6,620.7 879.4,622.4 880.2,626.9 881,625.8 881.8,628 882.6,631.1 883.4,631.4 884.2,633.1 885,632.1 885.8,633.1 886.6,631.6 887.4,633.2 888.2,633.9 889,636.6 889.8,637.6 890.6,636 891.4,639.3 892.2,636.8 893,639 893.8,637.2 894.6,640.3 895.4,638.8 896.2,643.4 897,640.6 897.8,643.1 898.6,641 899.4,640.1 900.2,642.2 901,639.2 901.8,640.6 902.6,641 903.4,642.6 904.2,641.2 905,638.3 905.8,640.4 906.6,642.9 907.4,642.9 908.2,640.8 909,640.1 909.8,641.1 910.6,644.7 911.4,642.8 912.2,647.5 913,645.3 913.8,648.3 914.6,649 915.4,648 916.2,650 917,651.4 917.8,650.7 918.6,653.1 919.4,654.1 920.2,656.5 921,653.9 921.8,654 922.6,655.9 923.4,657.3 924.2,657.1 925,659.5 925.8,656.2 926.6,657.8 927.4,657.5 928.2,656.6 929,658.1 929.8,658.6 930.6,659 931.4,661.6 932.2,663 933,663.5 933.8,660.7 934.6,661.7 935.4,665 936.2,661.8 937,663.5 937.8,664.7 938.6,671.4 939.4,671.6 940.2,674.8 941,676.5 941.8,684 942.6,688.1 943.4,690.2 944.2,694.3 945,695.4 945.8,697 946.6,698.7 947.4,701.7 948.2,703 949,706.1 949.8,706.7 950.6,708.7 951.4,714.6 952.2,715.8 953,716.9 953.8,715.1 954.6,715.9 955.4,715.9 956.2,716.6 957,713.2 957.8,712.9 958.6,711.1 959.4,710.2 960.2,705.2 961,701 961.8,699.7 962.6,699.4 963.4,693 964.2,691.9 965,686.2 965.8,684.1 966.6,683.3 967.4,678.9 968.2,678.7 969,677.7 969.8,675.7 970.6,676.2 971.4,675.8 972.2,672.8 973,674.9 973.8,674.7 974.6,674.3 975.4,674.5 976.2,674.7 977,675.8 977.8,676.3 978.6,675.2 979.4,678 980.2,679.8 981,680.3 981.8,684.1 982.6,682.9 983.4,685.7 984.2,686.9 985,688.9 985.8,688 986.6,691.8 987.4,690.1 988.2,693.4 989,693.9 989.8,696.4 990.6,697.5 991.4,698.9 992.2,695.4 993,698.9 993.8,696.5 994.6,697.2 995.4,694.6 996.2,698.6 997,695.4 997.8,695.8 998.6,695.6 999.4,695.4 1000.2,695.9 1001,696.2 1001.8,697.9 1002.6,697.7 1003.4,700.4 1004.2,701.4 1005,701.9 1005.8,699.3 1006.6,701 1007.4,701.2 1008.2,701.4 1009,700.2 1009.8,699.5 1010.6,702.3 1011.4,702.1 1012.2,700.6 1013,702.3 1013.8,699.5 1014.6,703.4 1015.4,703.4 1016.2,703.8 1017,699 1017.8,700.6 1018.6,699.9 1019.4,695.7 1020.2,696.6 1021,692.9 1021.8,692 1022.6,689.9 1023.4,690 1024.2,691.8 1025,689.7 1025.8,689.4 1026.6,689.2 1027.4,684.5 1028.2,687.2 1029,686.7 1029.8,685.2 1030.6,683.3 1031.4,682.1 1032.2,683.2 1033,683.2 1033.8,683.2 1034.6,685.6 1035.4,686 1036.2,685.4 1037,686.2 1037.8,689.3 1038.6,692.3 1039.4,694.2 1040.2,695.8 1041,698.4 1041.8,699.3 1042.6,699.3 1043.4,701.9 1044.2,702.5 1045,702 1045.8,702.2 1046.6,704.2 1047.4,706.7 1048.2,707.8 1049,705.8 1049.8,707 1050.6,704.3 1051.4,706.6 1052.2,705.3 1053,706 1053.8,705.7 1054.6,700.5 1055.4,704 1056.2,698.9 1057,701.7 1057.8,700.2 1058.6,695.5 1059.4,695 1060.2,693.5 1061,697.1 1061.8,696.2 1062.6,697 1063.4,696 1064.2,693.4 1065,695.1 1065.8,693 1066.6,693.5 1067.4,694.3 1068.2,696.5 1069,695.6 1069.8,698.2 1070.6,699.6 1071.4,702.3 1072.2,702.4 1073,703.7 1073.8,705.9 1074.6,706.6 1075.4,709.3 1076.2,707.3 1077,709 1077.8,709.8 1078.6,713.3 1079.4,716.9 1080.2,717.5 1081,719.1 1081.8,721.2 1082.6,721.1 1083.4,718.9 1084.2,718.1 1085,719.4 1085.8,717.3 1086.6,718.6 1087.4,715.3 1088.2,715.9 1089,716.1 1089.8,712.7 1090.6,710.5 1091.4,712.1 1092.2,708.1 1093,710.8 1093.8,708.2 1094.6,708.8 1095.4,705.8 1096.2,704.4 1097,702.6 1097.8,700.8 1098.6,704.5 1099.4,700.9 1100.2,700.2 1101,704 1101.8,702.4 1102.6,703.1 1103.4,704.4 1104.2,703.4 1105,701.4 1105.8,701.8 1106.6,704 1107.4,704.9 1108.2,703.8 1109,704.7 1109.8,707.4 1110.6,706.9 1111.4,712.1 1112.2,713.2 1113,713 1113.8,716.8 1114.6,719 1115.4,719.2 1116.2,723.1 1117,727.3 1117.8,727.8 1118.6,731.5 1119.4,731 1120.2,737 1121,737 1121.8,738.7 1122.6,737.5 1123.4,741.2 1124.2,741.3 1125,745.6 1125.8,746.3 1126.6,748.5 1127.4,750.4 1128.2,751.2 1129,753.2 1129.8,755.8 1130.6,755.7 1131.4,759.2 1132.2,762.4 1133,762.3 1133.8,764.4 1134.6,760.5 1135.4,764.1 1136.2,762.3 1137,766.8 1137.8,765.1 1138.6,766.5 1139.4,766.4 1140.2,763.3 1141,763 1141.8,766 1142.6,765.6 1143.4,763.2 1144.2,760.5 1145,759.5 1145.8,762.1 1146.6,760.6 1147.4,758 1148.2,757.3 1149,756.3 1149.8,751.1 1150.6,753.2 1151.4,752.8 1152.2,750.8 1153,749.1 1153.8,744.6 1154.6,743.8 1155.4,739.7 1156.2,741.7 1157,739.5 1157.8,737.1 1158.6,734.1 1159.4,734.1 1160.2,734.5 1161,737.1 1161.8,734.5 1162.6,736.1 1163.4,732.2 1164.2,732.5 1165,732.5 1165.8,733.2 1166.6,736.3 1167.4,735.1 1168.2,735.7 1169,738.4 1169.8,738.6 1170.6,742.4 1171.4,742.8 1172.2,744.9 1173,744 1173.8,745.3 1174.6,747 1175.4,751 1176.2,752.1 1177,751.1 1177.8,751.8 1178.6,750.5 1179.4,755.3 1180.2,754.8 1181,755 1181.8,754.5 1182.6,756.5 1183.4,758.1 1184.2,756.6 1185,756.9 1185.8,757.8 1186.6,757.7 1187.4,755.3 1188.2,755.7 1189,757.1 1189.8,758.6 1190.6,756.9 1191.4,754.7 1192.2,755.6 1193,755 1193.8,758.3 1194.6,755.7 1195.4,759.4 1196.2,755.5 1197,755.2 1197.8,754.3 1198.6,757.2 1199.4,758 1200.2,760.1 1201,759.8 1201.8,760.1 1202.6,758 1203.4,762.7 1204.2,759.9 1205,761 1205.8,761.5 1206.6,764.5 1207.4,765.9 1208.2,765 1209,765.6 1209.8,765.1 1210.6,768.5 1211.4,769.8 1212.2,767.9 1213,769.1 1213.8,771.8 1214.6,772.5 1215.4,770.4 1216.2,774.8 1217,773.5 1217.8,774.3 1218.6,772.3 1219.4,775.7 1220.2,773.7 1221,775.4 1221.8,777.1 1222.6,776.6 1223.4,773.6 1224.2,773.5 1225,774.8 1225.8,775.5 1226.6,780.7 1227.4,780.5 1228.2,782 1229,782.9 1229.8,785.7 1230.6,787.6 1231.4,791.7 1232.2,792.8 1233,797.9 1233.8,800.5 1234.6,803.2 1235.4,805.1 1236.2,804.9 1237,808.4 1237.8,813.1 1238.6,813.3 1239.4,817.2 1240.2,817.6 1241,823.1 1241.8,823.1 1242.6,825.1 1243.4,828.4 1244.2,826.3 1245,827.2 1245.8,829.7 1246.6,830.5 1247.4,829.4 1248.2,830.8 1249,832.3 1249.8,832.3 1250.6,830.9 1251.4,828.1 1252.2,821.8 1253,819.9 1253.8,817.7 1254.6,813.1 1255.4,814.3 1256.2,809.2 1257,809.3 1257.8,806 1258.6,801.7 1259.4,799.4 1260.2,797.4 1261,794.3 1261.8,791.8 1262.6,792.4 1263.4,790.7 1264.2,790.4 1265,792.3 1265.8,791.3 1266.6,789.7 1267.4,787.4 1268.2,790.8 1269,789.1 1269.8,789.7 1270.6,793.5 1271.4,795.6 1272.2,794.1 1273,796.9 1273.8,799.8 1274.6,799.6 1275.4,800.1 1276.2,800.6 1277,801.5 1277.8,806.9 1278.6,808 1279.4,806.1 1280.2,809.2 1281,807.5 1281.8,811.4 1282.6,810.2 1283.4,812.3 1284.2,811.8 1285,810.2 1285.8,812.5 1286.6,812.9 1287.4,810.2 1288.2,810.4 1289,811.9 1289.8,814.5 1290.6,816.4 1291.4,814.2 1292.2,816 1293,815.1 1293.8,813.4 1294.6,814.1 1295.4,816.1 1296.2,814.8 1297,814.9 1297.8,815.9 1298.6,813.3 1299.4,815.2 1300.2,815.8 1301,816.4 1301.8,817.4 1302.6,815.6 1303.4,816.5 1304.2,816.6 1305,815.5 1305.8,819.1 1306.6,820 1307.4,818.1 1308.2,816.7 1309,815.5 1309.8,814.8 1310.6,813.7 1311.4,812 1312.2,813.9 1313,809.9 1313.8,807.7 1314.6,808.1 1315.4,803.6 1316.2,804.2 1317,803.6 1317.8,803.7 1318.6,800.6 1319.4,798.2 1320.2,801.9 1321,796.8 1321.8,799.1 1322.6,798.9 1323.4,801.4 1324.2,798.2 1325,797.7 1325.8,797.6 1326.6,798.9 1327.4,798.4 1328.2,803.2 1329,802.1 1329.8,804.8 1330.6,804.1 1331.4,807.5 1332.2,810.7 1333,808.9 1333.8,814 1334.6,812.2 1335.4,815.8 1336.2,818.2 1337,817 1337.8,820.2 1338.6,818.5 1339.4,819.8 1340.2,822.3 1341,821 1341.8,818.5 1342.6,818.4 1343.4,819.4 1344.2,818.3 1345,816.1 1345.8,819.2 1346.6,815.7 1347.4,817.2 1348.2,812.8 1349,810.8 1349.8,810.9 1350.6,812.2 1351.4,811.9 1352.2,809.7 1353,807.3 1353.8,807.8 1354.6,805.8 1355.4,805.9 1356.2,804.4 1357,804.8 1357.8,809.4 1358.6,809.3 1359.4,807.2 1360.2,809.7 1361,807.6 1361.8,813 1362.6,813.4 1363.4,815.9 1364.2,816.2 1365,817.7 1365.8,820.8 1366.6,819.8 1367.4,820.6 1368.2,822 1369,827.3 1369.8,825.9 1370.6,826.3 1371.4,829.7 1372.2,829 1373,831.5 1373.8,834 1374.6,832.5 1375.4,834.2 1376.2,836.9 1377,836.4 1377.8,836.4 1378.6,831.5 1379.4,834.9 1380.2,832.1 1381,829.2 1381.8,832.3 1382.6,826.6 1383.4,829.6 1384.2,823.5 1385,823 1385.8,823.6 1386.6,823.7 1387.4,822.5 1388.2,822.7 1389,817.9 1389.8,820.1 1390.6,816.9 1391.4,819.5 1392.2,816.6 1393,816.6 1393.8,812.8 1394.6,816.1 1395.4,812.9 1396.2,813.2 1397,814.4 1397.8,817.2 1398.6,816.1 1399.4,817.9 1400.2,819.3 1401,818.8 1401.8,819.7 1402.6,822.5 1403.4,825.5 1404.2,827.2 1405,826.9 1405.8,831.1 1406.6,833.9 1407.4,835.5 1408.2,835.4 1409,836.8 1409.8,843.4 1410.6,844.5 1411.4,844.9 1412.2,849 1413,849.9 1413.8,852.3 1414.6,852.6 1415.4,855.8 1416.2,855.9 1417,857.8 1417.8,859.3 1418.6,862.8 1419.4,864.7 1420.2,863.3 1421,863.7 1421.8,865.6 1422.6,869.3 1423.4,869.2 1424.2,868.9 1425,873.8 1425.8,873.2 1426.6,872.8 1427.4,877.1 1428.2,876.9 1429,879.6 1429.8,879.9 1430.6,880 1431.4,880.3 1432.2,877.6 1433,879.4 1433.8,877.1 1434.6,877.5 1435.4,874.1 1436.2,875.4 1437,871 1437.8,873.7 1438.6,868.8 1439.4,869.5 1440.2,868.9 1441,866.8 1441.8,864.4 1442.6,860.1 1443.4,856 1444.2,858.5 1445,853.1 1445.8,854.2 1446.6,849.9 1447.4,848.6 1448.2,847.6 1449,846.4 1449.8,846.1 1450.6,844.1 1451.4,840.8 1452.2,842 1453,839 1453.8,842.4 1454.6,838.8 1455.4,839.5 1456.2,840.4 1457,839.5 1457.8,842.1 1458.6,841.7 1459.4,839.9 1460.2,840.6 1461,842.6 1461.8,842.2 1462.6,843.7 1463.4,843.2 1464.2,845.9 1465,847.1 1465.8,850.3 1466.6,848.6 1467.4,852 1468.2,850.1 1469,852.2 1469.8,852.8 1470.6,857.6 1471.4,854.8 1472.2,857.3 1473,859.1 1473.8,861.3 1474.6,861.9 1475.4,859.9 1476.2,861.2 1477,862.7 1477.8,860.3 1478.6,859.9 1479.4,862.7 1480.2,858.4 1481,858.9 1481.8,858.8 1482.6,861.9 1483.4,859.5 1484.2,860.1 1485,859.8 1485.8,861.2 1486.6,856.7 1487.4,857.4 1488.2,857.8 1489,859.2 1489.8,857 1490.6,858.3 1491.4,858.9 1492.2,856.6 1493,858.6 1493.8,857.3 1494.6,862 1495.4,858.4 1496.2,859.9 1497,862.6 1497.8,861.7 1498.6,864.7 1499.4,864.5 1500.2,869 1501,867.5 1501.8,867.3 1502.6,867.1 1503.4,869.4 1504.2,871.7 1505,872.3 1505.8,873 1506.6,872.3 1507.4,874.5 1508.2,872.3 1509,873.5 1509.8,875.4 1510.6,875.1 1511.4,874 1512.2,875.4 1513,875.3 1513.8,873.4 1514.6,874 1515.4,875.9 1516.2,874.6 1517,874.7 1517.8,875.9 1518.6,874.7 1519.4,876.5 1520.2,881.5 1521,879.2 1521.8,883.6 1522.6,881.1 1523.4,884.7 1524.2,888 1525,890.2 1525.8,896.1 1526.6,898.6 1527.4,898.5 1528.2,900.5 1529,907 1529.8,909 1530.6,910.2 1531.4,910.3 1532.2,912.4 1533,918 1533.8,920.2 1534.6,921.1 1535.4,921.7 1536.2,922.6 1537,924.3 1537.8,925.5 1538.6,927.2 1539.4,926.4 1540.2,926.1 1541,925.5 1541.8,926.8 1542.6,927.5 1543.4,922.9 1544.2,924 1545,921.2 1545.8,918 1546.6,915.8 1547.4,917.6 1548.2,910.8 1549,907.1 1549.8,902.9 1550.6,902.5 1551.4,896.8 1552.2,891.9 1553,890 1553.8,888.3 1554.6,886.5 1555.4,883.4 1556.2,885.4 1557,883.4 1557.8,880.6 1558.6,879.9 1559.4,879.2 1560.2,878 1561,881.3 1561.8,880.3 1562.6,882.9 1563.4,884.3 1564.2,882.9 1565,883.8 1565.8,885.2 1566.6,887.6 1567.4,887.2 1568.2,890.2 1569,891.5 1569.8,892.2 1570.6,897.2 1571.4,897.5 1572.2,898.1 1573,896.8 1573.8,901.2 1574.6,900.4 1575.4,903.7 1576.2,903 1577,901.4 1577.8,903.9 1578.6,903.3 1579.4,902.3 1580.2,904.2 1581,901.5 1581.8,900.6 1582.6,899.5 1583.4,901.9 1584.2,899.9 1585,899.6 1585.8,898.7 1586.6,902.8 1587.4,901 1588.2,904.6 1589,904.7 1589.8,905 1590.6,902.1 1591.4,905.9 1592.2,904.6 1593,906 1593.8,906.2 1594.6,903.7 1595.4,903.7 1596.2,905.8 1597,902.7 1597.8,901.9 1598.6,901.1 1599.4,903.9 1600.2,902.3 1601,905 1601.8,899.5 1602.6,900.3 1603.4,900.4 1604.2,898.9 1605,898.8 1605.8,896.5 1606.6,896.3 1607.4,895.2 1608.2,893.2 1609,890.4 1609.8,887.7 1610.6,886.9 1611.4,884.3 1612.2,883.6 1613,884.1 1613.8,883 1614.6,882.7 1615.4,880.8 1616.2,885.1 1617,881.8 1617.8,882.9 1618.6,882.4 1619.4,884.2 1620.2,885.9 1621,887.7 1621.8,886.7 1622.6,889.1 1623.4,887 1624.2,889.1 1625,889.3 1625.8,893.7 1626.6,891.2 1627.4,893 1628.2,896.5 1629,895.4 1629.8,896 1630.6,898.3 1631.4,899.7 1632.2,900.6 1633,900 1633.8,900.8 1634.6,900.8 1635.4,900.3 1636.2,901.8 1637,900.7 1637.8,900.7 1638.6,903.7 1639.4,902.6 1640.2,898.5 1641,897 1641.8,893.1 1642.6,891.9 1643.4,892.9 1644.2,894.2 1645,889.5 1645.8,890.2 1646.6,890.8 1647.4,886.5 1648.2,889.2 1649,887.4 1649.8,890.3 1650.6,890.8 1651.4,891.1 1652.2,891 1653,888.2 1653.8,891.8 1654.6,892.1 1655.4,891.9 1656.2,892 1657,893.8 1657.8,894.6 1658.6,895.1 1658.6,954.4 1657.8,954.4 1657,954.4 1656.2,954.4 1655.4,954.4 1654.6,954.4 1653.8,954.4 1653,954.4 1652.2,954.4 1651.4,954.4 1650.6,954.4 1649.8,954.4 1649,954.4 1648.2,954.4 1647.4,954.4 1646.6,954.4 1645.8,954.4 1645,954.4 1644.2,954.4 1643.4,954.4 1642.6,954.4 1641.8,954.4 1641,954.4 1640.2,954.4 1639.4,954.4 1638.6,954.4 1637.8,954.4 1637,954.4 1636.2,954.4 1635.4,954.4 1634.6,954.4 1633.8,954.4 1633,954.4 1632.2,954.4 1631.4,954.4 1630.6,954.4 1629.8,954.4 1629,954.4 1628.2,954.4 1627.4,954.4 1626.6,954.4 1625.8,954.4 1625,954.4 1624.2,954.4 1623.4,954.4 1622.6,954.4 1621.8,954.4 1621,954.4 1620.2,954.4 1619.4,951.6 1618.6,952.3 1617.8,953 1617,950.4 1616.2,953.1 1615.4,954.4 1614.6,953.1 1613.8,954.4 1613,954.4 1612.2,954.4 1611.4,954.4 1610.6,954.4 1609.8,954.4 1609,954.4 1608.2,954.4 1607.4,954.4 1606.6,954.4 1605.8,954.4 1605,954.4 1604.2,954.4 1603.4,954.4 1602.6,954.4 1601.8,954.4 1601,954.4 1600.2,954.4 1599.4,954.4 1598.6,954.4 1597.8,954.4 1597,954.4 1596.2,954.4 1595.4,954.4 1594.6,954.4 1593.8,954.4 1593,954.4 1592.2,954.4 1591.4,954.4 1590.6,954.4 1589.8,954.4 1589,954.4 1588.2,954.4 1587.4,954.4 1586.6,954.4 1585.8,954.4 1585,954.4 1584.2,954.4 1583.4,954.4 1582.6,954.4 1581.8,954.4 1581,954.4 1580.2,954.4 1579.4,954.4 1578.6,954.4 1577.8,954.4 1577,954.4 1576.2,954.4 1575.4,954.4 1574.6,954.4 1573.8,954.4 1573,954.4 1572.2,954.4 1571.4,954.4 1570.6,954.4 1569.8,954.4 1569,954.4 1568.2,954.4 1567.4,954.4 1566.6,954.4 1565.8,954.4 1565,954.4 1564.2,953.4 1563.4,951.1 1562.6,951.5 1561.8,950.8 1561,952.7 1560.2,951.6 1559.4,951.2 1558.6,951.2 1557.8,954.4 1557,953.7 1556.2,954.2 1555.4,954.4 1554.6,954.4 1553.8,954.4 1553,954.4 1552.2,954.4 1551.4,954.4 1550.6,954.4 1549.8,954.4 1549,954.4 1548.2,954.4 1547.4,954.4 1546.6,954.4 1545.8,954.4 1545,954.4 1544.2,954.4 1543.4,954.4 1542.6,954.4 1541.8,954.4 1541,954.4 1540.2,954.4 1539.4,954.4 1538.6,954.4 1537.8,954.4 1537,954.4 1536.2,954.4 1535.4,954.4 1534.6,954.4 1533.8,954.4 1533,954.4 1532.2,954.4 1531.4,954.4 1530.6,954.4 1529.8,954.4 1529,954.4 1528.2,954.4 1527.4,954.4 1526.6,954.4 1525.8,954.4 1525,954.4 1524.2,954.4 1523.4,954.4 1522.6,950.6 1521.8,947.1 1521,947.7 1520.2,943.5 1519.4,941.5 1518.6,942.8 1517.8,940.6 1517,939.5 1516.2,942.5 1515.4,940.3 1514.6,938.6 1513.8,940.8 1513,940.4 1512.2,942.3 1511.4,942.1 1510.6,939.7 1509.8,938.5 1509,940.6 1508.2,941.2 1507.4,939.4 1506.6,937.6 1505.8,940 1505,938.5 1504.2,934.2 1503.4,934.5 1502.6,932.3 1501.8,936.6 1501,931.4 1500.2,934.8 1499.4,933 1498.6,930 1497.8,930.8 1497,928.3 1496.2,927 1495.4,925 1494.6,925.5 1493.8,928.5 1493,926.4 1492.2,927 1491.4,923.3 1490.6,926.4 1489.8,924.5 1489,928.1 1488.2,924.3 1487.4,926.6 1486.6,927.3 1485.8,926.9 1485,925.8 1484.2,928.1 1483.4,927.9 1482.6,927.5 1481.8,927.5 1481,929.4 1480.2,928.5 1479.4,926.3 1478.6,929.6 1477.8,928.2 1477,928.7 1476.2,929.1 1475.4,929.7 1474.6,928.9 1473.8,928 1473,925 1472.2,927 1471.4,922 1470.6,922.2 1469.8,921.1 1469,917.6 1468.2,918.3 1467.4,915.3 1466.6,914.5 1465.8,913.3 1465,912.3 1464.2,912.7 1463.4,912.9 1462.6,907.8 1461.8,910.6 1461,905 1460.2,904.9 1459.4,905.2 1458.6,903.1 1457.8,905.1 1457,903.3 1456.2,905.1 1455.4,904.1 1454.6,908.7 1453.8,908.6 1453,906.2 1452.2,907.2 1451.4,910.1 1450.6,911.8 1449.8,910.3 1449,911 1448.2,911.6 1447.4,916.8 1446.6,918.9 1445.8,920.9 1445,921.3 1444.2,924.9 1443.4,922.5 1442.6,925.2 1441.8,930.8 1441,932.6 1440.2,932.5 1439.4,936.4 1438.6,936.8 1437.8,940.9 1437,942.6 1436.2,943.5 1435.4,941.2 1434.6,942.7 1433.8,942.3 1433,944.4 1432.2,944.8 1431.4,946.8 1430.6,944 1429.8,943 1429,941.6 1428.2,942.2 1427.4,939.4 1426.6,939 1425.8,939.2 1425,936.6 1424.2,936.3 1423.4,936.3 1422.6,932.4 1421.8,931.5 1421,933.4 1420.2,927.7 1419.4,927.6 1418.6,925.3 1417.8,924.1 1417,926.9 1416.2,921.5 1415.4,921.7 1414.6,919.1 1413.8,916.1 1413,913.2 1412.2,912.1 1411.4,909.1 1410.6,908.4 1409.8,909.7 1409,903 1408.2,904.9 1407.4,900.1 1406.6,897.8 1405.8,898.2 1405,892.8 1404.2,893.3 1403.4,888.5 1402.6,888 1401.8,889.2 1401,886.7 1400.2,887.9 1399.4,886 1398.6,884.5 1397.8,881.7 1397,880.5 1396.2,882.5 1395.4,880.3 1394.6,879.1 1393.8,881.1 1393,883 1392.2,884.4 1391.4,882 1390.6,885.1 1389.8,886.3 1389,886.6 1388.2,887.6 1387.4,887.6 1386.6,889.1 1385.8,891.8 1385,893.8 1384.2,893.1 1383.4,893.2 1382.6,897 1381.8,895 1381,895.4 1380.2,896.9 1379.4,899.8 1378.6,897.3 1377.8,901.4 1377,902.3 1376.2,903.4 1375.4,899.7 1374.6,902.4 1373.8,900.2 1373,900 1372.2,895.9 1371.4,895.2 1370.6,897.4 1369.8,892.6 1369,893.1 1368.2,893.3 1367.4,890.4 1366.6,890 1365.8,886.7 1365,886.9 1364.2,885.4 1363.4,879.7 1362.6,879.2 1361.8,875.4 1361,875 1360.2,877.5 1359.4,876.2 1358.6,875.6 1357.8,875.4 1357,872.6 1356.2,876.4 1355.4,875.4 1354.6,877.3 1353.8,874.7 1353,877 1352.2,876.5 1351.4,878.4 1350.6,878.5 1349.8,876.7 1349,878.1 1348.2,877.8 1347.4,881.7 1346.6,883 1345.8,883.5 1345,882.2 1344.2,885.6 1343.4,883.9 1342.6,884 1341.8,885.8 1341,884.7 1340.2,886.9 1339.4,883.5 1338.6,887 1337.8,882.7 1337,882.3 1336.2,881.3 1335.4,880.1 1334.6,878.9 1333.8,877.8 1333,876.7 1332.2,872.1 1331.4,870.2 1330.6,871.1 1329.8,868 1329,870.3 1328.2,868.9 1327.4,865.2 1326.6,864.4 1325.8,864.2 1325,865.7 1324.2,867.1 1323.4,865.2 1322.6,866.8 1321.8,866.8 1321,866.3 1320.2,865.9 1319.4,867.9 1318.6,865.8 1317.8,871.4 1317,870.5 1316.2,871.7 1315.4,871.7 1314.6,876.9 1313.8,876.9 1313,875.9 1312.2,877.2 1311.4,876.7 1310.6,879.1 1309.8,879.2 1309,882.3 1308.2,881.2 1307.4,885.3 1306.6,881.4 1305.8,881.5 1305,880.8 1304.2,881.2 1303.4,880.8 1302.6,885.3 1301.8,881.9 1301,883.7 1300.2,885 1299.4,882.2 1298.6,883.3 1297.8,878.9 1297,880.6 1296.2,880.3 1295.4,879.7 1294.6,880.7 1293.8,882.3 1293,879.4 1292.2,878.1 1291.4,877.8 1290.6,877.4 1289.8,878.7 1289,877.1 1288.2,878.2 1287.4,878.6 1286.6,880.3 1285.8,878.9 1285,879.1 1284.2,878.1 1283.4,877.6 1282.6,877.5 1281.8,878.2 1281,875.3 1280.2,874.3 1279.4,873.6 1278.6,874.1 1277.8,869.4 1277,870.8 1276.2,866.1 1275.4,865.1 1274.6,865.5 1273.8,866.6 1273,862.7 1272.2,862.4 1271.4,859.1 1270.6,859.5 1269.8,856.8 1269,858 1268.2,857.1 1267.4,854.6 1266.6,856.6 1265.8,855.7 1265,857 1264.2,856.3 1263.4,860.2 1262.6,862.8 1261.8,863.3 1261,865 1260.2,867.3 1259.4,868.1 1258.6,867.2 1257.8,870.7 1257,874.9 1256.2,879.1 1255.4,878.5 1254.6,881.6 1253.8,884.5 1253,886.1 1252.2,887.9 1251.4,890.7 1250.6,895.1 1249.8,895 1249,898.1 1248.2,898.5 1247.4,896.3 1246.6,898.3 1245.8,897.7 1245,898.2 1244.2,896.3 1243.4,893.9 1242.6,894.5 1241.8,891 1241,887.6 1240.2,882.4 1239.4,880.2 1238.6,877.4 1237.8,876.9 1237,874.4 1236.2,870.9 1235.4,867.8 1234.6,865.7 1233.8,863.1 1233,861 1232.2,858.3 1231.4,858.2 1230.6,852.1 1229.8,849.4 1229,848.7 1228.2,849 1227.4,849.1 1226.6,847.4 1225.8,845.6 1225,842.9 1224.2,840.6 1223.4,840.9 1222.6,838.2 1221.8,841.3 1221,837.4 1220.2,838.7 1219.4,838.2 1218.6,838.5 1217.8,837.6 1217,839.2 1216.2,838.3 1215.4,836.8 1214.6,836.7 1213.8,834.9 1213,839 1212.2,836.1 1211.4,837.1 1210.6,835.2 1209.8,832.3 1209,831.3 1208.2,830.3 1207.4,828.9 1206.6,830.3 1205.8,827.3 1205,828.7 1204.2,829.5 1203.4,828.3 1202.6,825.1 1201.8,827.6 1201,823.1 1200.2,825 1199.4,825.3 1198.6,824.9 1197.8,823 1197,823.5 1196.2,822.3 1195.4,824.7 1194.6,825.8 1193.8,823.5 1193,825.2 1192.2,823 1191.4,821.6 1190.6,825.9 1189.8,824.3 1189,823.9 1188.2,826.5 1187.4,823.1 1186.6,826.6 1185.8,825.1 1185,826.3 1184.2,827.3 1183.4,826.8 1182.6,825.4 1181.8,824.7 1181,820.1 1180.2,821.1 1179.4,821.4 1178.6,821.1 1177.8,815.8 1177,815.5 1176.2,813.1 1175.4,816 1174.6,813 1173.8,812.7 1173,811.4 1172.2,808.2 1171.4,809.9 1170.6,808.3 1169.8,803.3 1169,801.1 1168.2,800 1167.4,801.1 1166.6,800 1165.8,803.6 1165,803.1 1164.2,800.4 1163.4,799.7 1162.6,798.8 1161.8,802.2 1161,802.4 1160.2,799.8 1159.4,803.4 1158.6,804.3 1157.8,804.1 1157,807.8 1156.2,807.8 1155.4,808.1 1154.6,807.2 1153.8,812.8 1153,811.6 1152.2,816.7 1151.4,817.8 1150.6,818.9 1149.8,820.3 1149,820.3 1148.2,824.8 1147.4,824.3 1146.6,825.3 1145.8,825.8 1145,828.3 1144.2,826.6 1143.4,828.3 1142.6,829 1141.8,831.1 1141,829.1 1140.2,833.1 1139.4,833.7 1138.6,832.6 1137.8,830.2 1137,829.7 1136.2,830.2 1135.4,830.8 1134.6,826.8 1133.8,830.1 1133,828.4 1132.2,829 1131.4,827.9 1130.6,823.2 1129.8,821.9 1129,822.7 1128.2,819.7 1127.4,818.8 1126.6,818.1 1125.8,817.7 1125,815.4 1124.2,813.5 1123.4,809.4 1122.6,808.3 1121.8,805.3 1121,800.2 1120.2,798.4 1119.4,795.8 1118.6,796.5 1117.8,792.4 1117,793.7 1116.2,789 1115.4,787.6 1114.6,782.6 1113.8,781.3 1113,779.3 1112.2,779.6 1111.4,777 1110.6,774.3 1109.8,773.6 1109,775 1108.2,770.9 1107.4,771.2 1106.6,771.9 1105.8,770.1 1105,769.5 1104.2,768.5 1103.4,765.8 1102.6,767.6 1101.8,766.6 1101,768.6 1100.2,767.8 1099.4,770.8 1098.6,769.5 1097.8,769.5 1097,769 1096.2,770.6 1095.4,771 1094.6,775.6 1093.8,776 1093,777.9 1092.2,777.1 1091.4,779.9 1090.6,781.9 1089.8,779.4 1089,784.1 1088.2,781.9 1087.4,785.3 1086.6,784.2 1085.8,784.6 1085,786.7 1084.2,783 1083.4,783.2 1082.6,783.4 1081.8,782.3 1081,785.1 1080.2,781.2 1079.4,784.1 1078.6,781.1 1077.8,781.8 1077,779.2 1076.2,775.1 1075.4,777.1 1074.6,774.1 1073.8,770.8 1073,768.7 1072.2,768.2 1071.4,766.2 1070.6,765.9 1069.8,761.9 1069,760 1068.2,759.4 1067.4,759.4 1066.6,758.9 1065.8,761.1 1065,759 1064.2,760 1063.4,760.6 1062.6,760.5 1061.8,760.6 1061,758.8 1060.2,760.7 1059.4,764 1058.6,762.5 1057.8,763.7 1057,764.3 1056.2,767.9 1055.4,767.6 1054.6,771.4 1053.8,770.3 1053,768.4 1052.2,772 1051.4,771.1 1050.6,775.1 1049.8,773.1 1049,773.4 1048.2,773.7 1047.4,772.8 1046.6,770.7 1045.8,772.3 1045,770.9 1044.2,766.5 1043.4,768.5 1042.6,762.3 1041.8,763.7 1041,759.4 1040.2,759.5 1039.4,759 1038.6,759.5 1037.8,754.3 1037,753.4 1036.2,751.7 1035.4,754.5 1034.6,750.7 1033.8,751.9 1033,748.2 1032.2,747.8 1031.4,750.7 1030.6,750.9 1029.8,752.2 1029,753.9 1028.2,752.2 1027.4,754.1 1026.6,753.9 1025.8,751.9 1025,752.4 1024.2,755.9 1023.4,754.9 1022.6,759.8 1021.8,758.4 1021,761 1020.2,761.7 1019.4,764.3 1018.6,765 1017.8,767.1 1017,768.8 1016.2,767 1015.4,766.1 1014.6,766.2 1013.8,768.2 1013,768.7 1012.2,765.6 1011.4,766.9 1010.6,769.8 1009.8,768.1 1009,769.7 1008.2,767.5 1007.4,768.9 1006.6,765.5 1005.8,765.1 1005,762.5 1004.2,762.2 1003.4,764.9 1002.6,764.3 1001.8,766.8 1001,764.2 1000.2,763.3 999.4,764.1 998.6,762.7 997.8,765.2 997,766 996.2,761.8 995.4,765.5 994.6,762.4 993.8,764.6 993,764.9 992.2,762.8 991.4,764.2 990.6,759.9 989.8,761.3 989,759.2 988.2,762.4 987.4,758.6 986.6,759.5 985.8,755.8 985,752.7 984.2,754.6 983.4,752.2 982.6,749.3 981.8,748.3 981,745.4 980.2,746.2 979.4,742.8 978.6,739.9 977.8,742.9 977,739.6 976.2,739.8 975.4,741.6 974.6,742.2 973.8,742.4 973,741.4 972.2,741.7 971.4,743.3 970.6,743 969.8,745.7 969,744.9 968.2,746.4 967.4,746.7 966.6,747.1 965.8,750.3 965,754.4 964.2,755.9 963.4,762.4 962.6,764 961.8,765.4 961,769 960.2,771.5 959.4,776.7 958.6,775.3 957.8,778.4 957,779.2 956.2,779.3 955.4,783.1 954.6,784.3 953.8,783.1 953,780.7 952.2,780.1 951.4,776.5 950.6,778.6 949.8,775.8 949,771.8 948.2,771.6 947.4,767.1 946.6,769.1 945.8,762.3 945,761.2 944.2,760 943.4,756.8 942.6,752.8 941.8,750.2 941,746.5 940.2,741.2 939.4,737.3 938.6,736.6 937.8,733.2 937,733.1 936.2,733.6 935.4,729 934.6,731.5 933.8,729.3 933,728.7 932.2,728 931.4,726.2 930.6,725 929.8,726.4 929,725.7 928.2,721.9 927.4,722.1 926.6,722.6 925.8,723.8 925,725.7 924.2,724.6 923.4,722 922.6,721.5 921.8,724.3 921,719.7 920.2,722.6 919.4,718.6 918.6,717.9 917.8,719.6 917,717 916.2,714.3 915.4,714.4 914.6,715 913.8,713.3 913,712.3 912.2,712.5 911.4,709.7 910.6,709.3 909.8,707.8 909,708.6 908.2,709.4 907.4,705.6 906.6,709.8 905.8,706.4 905,709.5 904.2,708.6 903.4,705.7 902.6,705.8 901.8,708 901,705.3 900.2,706.8 899.4,708.5 898.6,705.8 897.8,709 897,705 896.2,705.7 895.4,708 894.6,707.2 893.8,705.2 893,707.8 892.2,705.1 891.4,706.9 890.6,707.9 889.8,704 889,705.9 888.2,700.6 887.4,704.6 886.6,701.3 885.8,702.6 885,699.2 884.2,696.4 883.4,697.9 882.6,694.5 881.8,694.7 881,691.1 880.2,691 879.4,687.3 878.6,690.3 877.8,684.8 877,684.2 876.2,684.6 875.4,686.6 874.6,684.2 873.8,686.3 873,681.6 872.2,681.6 871.4,685.7 870.6,682 869.8,683.2 869,682.4 868.2,683.2 867.4,683.6 866.6,684.8 865.8,684.8 865,687.2 864.2,689.3 863.4,694.3 862.6,695.6 861.8,695.1 861,697.8 860.2,700.4 859.4,701.7 858.6,703.9 857.8,704.6 857,705 856.2,708.2 855.4,709 854.6,712.8 853.8,713.5 853,715.6 852.2,716.1 851.4,712.8 850.6,713.6 849.8,714.3 849,714.4 848.2,713.3 847.4,713.3 846.6,711.5 845.8,712.5 845,713.6 844.2,714.8 843.4,712.1 842.6,709.1 841.8,706.9 841,706.3 840.2,705.3 839.4,701.9 838.6,702.1 837.8,702.4 837,697.6 836.2,697.8 835.4,694.6 834.6,693.8 833.8,692.3 833,694.3 832.2,690.9 831.4,689.7 830.6,685.3 829.8,682 829,680.2 828.2,678.6 827.4,677.3 826.6,674.8 825.8,676.5 825,672.7 824.2,673.4 823.4,668.9 822.6,666.9 821.8,664.8 821,664.7 820.2,662.2 819.4,659.7 818.6,661.2 817.8,658.2 817,655.6 816.2,651.9 815.4,651.4 814.6,649.3 813.8,648.9 813,650.8 812.2,648.7 811.4,650.9 810.6,650.6 809.8,648 809,652 808.2,647.9 807.4,650.5 806.6,648.6 805.8,653.3 805,653.7 804.2,654.9 803.4,652.7 802.6,654.8 801.8,654 801,657.5 800.2,661.1 799.4,660.6 798.6,662.8 797.8,661.7 797,663.2 796.2,669 795.4,668.9 794.6,670.7 793.8,669.1 793,669.5 792.2,672.2 791.4,670.1 790.6,671.5 789.8,668.8 789,671.8 788.2,667.8 787.4,669.2 786.6,670.5 785.8,670 785,668.6 784.2,664.9 783.4,662.3 782.6,663.8 781.8,662.6 781,659.2 780.2,658.6 779.4,658.5 778.6,656.3 777.8,652.8 777,650.5 776.2,651.5 775.4,646.9 774.6,648.8 773.8,646.9 773,650.3 772.2,650.9 771.4,651.2 770.6,650.2 769.8,651.2 769,648.2 768.2,650.2 767.4,650.1 766.6,656.1 765.8,654.5 765,659.4 764.2,657.6 763.4,658 762.6,662.4 761.8,661.5 761,663.3 760.2,665.8 759.4,668.1 758.6,666.2 757.8,667.2 757,670.3 756.2,671.2 755.4,670.2 754.6,667.1 753.8,671.1 753,666.6 752.2,668.4 751.4,665.9 750.6,664.7 749.8,665.6 749,665.9 748.2,663.7 747.4,664 746.6,660.9 745.8,661.8 745,656.4 744.2,655.2 743.4,656.7 742.6,655.9 741.8,658.8 741,656.3 740.2,659.1 739.4,656.7 738.6,659.4 737.8,660.6 737,661.6 736.2,661.2 735.4,664.6 734.6,665.2 733.8,666.3 733,665.7 732.2,669.1 731.4,667.1 730.6,669.6 729.8,674.8 729,676.5 728.2,674.6 727.4,679.4 726.6,677.6 725.8,682.3 725,684.1 724.2,684.9 723.4,684.1 722.6,685.4 721.8,682.8 721,686.3 720.2,683.7 719.4,686.3 718.6,685.4 717.8,688.3 717,684.8 716.2,689 715.4,685.1 714.6,689 713.8,686.4 713,687.9 712.2,687.5 711.4,690.9 710.6,687.4 709.8,689.1 709,688.6 708.2,689.4 707.4,688.2 706.6,688.5 705.8,692.5 705,690.7 704.2,694.7 703.4,693.3 702.6,695.1 701.8,692.8 701,696.9 700.2,696.8 699.4,695 698.6,697.3 697.8,697.2 697,694.2 696.2,698.5 695.4,695.3 694.6,693.6 693.8,691.1 693,690.5 692.2,693.6 691.4,692.9 690.6,690.5 689.8,690 689,689 688.2,684.5 687.4,682.1 686.6,681.7 685.8,680.9 685,680.3 684.2,680.3 683.4,680.8 682.6,681.6 681.8,681.4 681,682.5 680.2,686.1 679.4,688.4 678.6,690.4 677.8,689.1 677,691.7 676.2,693.2 675.4,697 674.6,704.4 673.8,704.8 673,713.6 672.2,715 671.4,721.2 670.6,722.8 669.8,728 669,728 668.2,729.5 667.4,731.1 666.6,736.5 665.8,737 665,739.2 664.2,737.8 663.4,742 662.6,739.5 661.8,742.4 661,739.1 660.2,736.9 659.4,737.4 658.6,735.9 657.8,732.8 657,731.9 656.2,727.5 655.4,724.9 654.6,722.4 653.8,721.9 653,717.2 652.2,713 651.4,710.4 650.6,709.7 649.8,706.3 649,704.4 648.2,705.7 647.4,702.2 646.6,702.9 645.8,701 645,701.6 644.2,700.1 643.4,701.4 642.6,700.7 641.8,698 641,696.7 640.2,696.2 639.4,698.4 638.6,700.1 637.8,698.7 637,696.9 636.2,699.3 635.4,696.8 634.6,699.8 633.8,698.8 633,700.7 632.2,696.9 631.4,700.9 630.6,696.8 629.8,698.3 629,699.5 628.2,700.9 627.4,696.6 626.6,699.1 625.8,695.6 625,696 624.2,696.7 623.4,695.5 622.6,693.6 621.8,693.5 621,692.7 620.2,692.1 619.4,694 618.6,692.5 617.8,691.7 617,691 616.2,689.3 615.4,690 614.6,692.5 613.8,693.7 613,690.7 612.2,694.6 611.4,693 610.6,694.8 609.8,693.7 609,691.4 608.2,691.5 607.4,692.6 606.6,696.2 605.8,693.6 605,695.5 604.2,696.2 603.4,696.9 602.6,699.9 601.8,698.2 601,699.4 600.2,697.6 599.4,700.3 598.6,697.2 597.8,700 597,695.4 596.2,698.1 595.4,694.4 594.6,697.9 593.8,694.9 593,694.2 592.2,693.5 591.4,692.9 590.6,692.6 589.8,690.3 589,687.5 588.2,686.7 587.4,689.8 586.6,687.7 585.8,687 585,687.3 584.2,686.2 583.4,681.8 582.6,685.1 581.8,682.2 581,683.8 580.2,682.2 579.4,683.4 578.6,682.9 577.8,681.5 577,680.9 576.2,682.2 575.4,683.2 574.6,684.7 573.8,685.1 573,688.9 572.2,688.9 571.4,692 570.6,693.5 569.8,694 569,693.6 568.2,695.3 567.4,701.6 566.6,699.9 565.8,705.4 565,704.5 564.2,709.8 563.4,709.1 562.6,713.8 561.8,713.4 561,713.8 560.2,717.4 559.4,719.6 558.6,723.8 557.8,724.1 557,725.2 556.2,723.2 555.4,721.7 554.6,724.1 553.8,722.1 553,726.7 552.2,723.9 551.4,726.8 550.6,726.5 549.8,726.4 549,724.2 548.2,724.8 547.4,721.7 546.6,718.9 545.8,719 545,720.5 544.2,717.5 543.4,719.4 542.6,717.9 541.8,714.1 541,713.4 540.2,713.5 539.4,713.3 538.6,711.4 537.8,710 537,706.4 536.2,703.8 535.4,701.4 534.6,700.4 533.8,699.6 533,697.2 532.2,693.5 531.4,695.7 530.6,689.3 529.8,690.9 529,688.9 528.2,684.3 527.4,685.3 526.6,684.8 525.8,679.5 525,677.6 524.2,678.4 523.4,678.7 522.6,676.6 521.8,677.3 521,678.8 520.2,677.4 519.4,678 518.6,675.4 517.8,675.9 517,677 516.2,676 515.4,673.3 514.6,676.9 513.8,674.9 513,680.1 512.2,680.2 511.4,680.7 510.6,681.5 509.8,682.2 509,685.8 508.2,683.1 507.4,684.7 506.6,688.9 505.8,690.9 505,692.4 504.2,695.4 503.4,694.6 502.6,694.2 501.8,699.1 501,699.4 500.2,697.8 499.4,698 498.6,696.8 497.8,700 497,698.6 496.2,696 495.4,697.1 494.6,698 493.8,693.9 493,695 492.2,691 491.4,689.9 490.6,691.1 489.8,686.9 489,686.5 488.2,682.7 487.4,682.7 486.6,680.9 485.8,682.4 485,680.6 484.2,680.9 483.4,679.3 482.6,678.5 481.8,681.8 481,679.4 480.2,681.1 479.4,682.2 478.6,682.9 477.8,682.6 477,681.3 476.2,681.6 475.4,679.9 474.6,682.9 473.8,682.8 473,687.4 472.2,684.8 471.4,687.7 470.6,690.6 469.8,689.1 469,692.9 468.2,695.2 467.4,693.3 466.6,695.8 465.8,696.5 465,697.7 464.2,698 463.4,698.5 462.6,694.9 461.8,696.4 461,696.7 460.2,694.6 459.4,694 458.6,693.4 457.8,693.7 457,689.2 456.2,688 455.4,687.9 454.6,687.9 453.8,684.3 453,686.7 452.2,684.1 451.4,685.1 450.6,683.8 449.8,683.1 449,683.8 448.2,681.4 447.4,684.6 446.6,682.8 445.8,680.1 445,681.2 444.2,679.9 443.4,680.6 442.6,683.7 441.8,685.1 441,689.2 440.2,686.8 439.4,691.9 438.6,691.1 437.8,695.2 437,695.9 436.2,696 435.4,697.3 434.6,700.8 433.8,697.8 433,698.9 432.2,702.8 431.4,701.5 430.6,702.4 429.8,705.6 429,704.2 428.2,707 427.4,706.3 426.6,704.5 425.8,704.4 425,703.7 424.2,703.2 423.4,702.2 422.6,703.9 421.8,704.8 421,707.9 420.2,707.3 419.4,707.3 418.6,702.9 417.8,703.4 417,702.8 416.2,706.1 415.4,707.7 414.6,706.1 413.8,705.1 413,706.2 412.2,707.7 411.4,708.6 410.6,708.9 409.8,704.9 409,705.2 408.2,707.7 407.4,709.6 406.6,705.8 405.8,708.5 405,707.2 404.2,708.8 403.4,708.1 402.6,704.8 401.8,704.3 401,702 400.2,701.2 399.4,701.5 398.6,700.3 397.8,697 397,697.3 396.2,694.3 395.4,694 394.6,691.4 393.8,692.7 393,690.4 392.2,690.8 391.4,686.8 390.6,690.2 389.8,689.7 389,692.3 388.2,691.1 387.4,690.3 386.6,690.8 385.8,691.3 385,692.2 384.2,694.6 383.4,698.4 382.6,702.2 381.8,706.6 381,707.3 380.2,712.4 379.4,715.2 378.6,719.2 377.8,721 377,725.2 376.2,724.4 375.4,728.5 374.6,734.1 373.8,735.5 373,738.6 372.2,738 371.4,740.2 370.6,740 369.8,741.1 369,740.9 368.2,738.4 367.4,738.2 366.6,739.3 365.8,737.5 365,734 364.2,732 363.4,730.4 362.6,726 361.8,725.6 361,722.9 360.2,719.2 359.4,717.1 358.6,717 357.8,713 357,713.3 356.2,708.1 355.4,704.5 354.6,705.6 353.8,701.4 353,701.5 352.2,697.5 351.4,698.4 350.6,694.1 349.8,693.1 349,694.4 348.2,692 347.4,691.2 346.6,691.3 345.8,690 345,689.2 344.2,689.2 343.4,690 342.6,691.5 341.8,693.5 341,695.6 340.2,691.7 339.4,690.5 338.6,689.9 337.8,690.1 337,691.4 336.2,694 335.4,694.1 334.6,695.1 333.8,694.6 333,690.4 332.2,689.1 331.4,689.5 330.6,690 329.8,689.8 329,690.5 328.2,688 327.4,685.6 326.6,685 325.8,683.9 325,687 324.2,687.2 323.4,687.5 322.6,685.4 321.8,683.2 321,683.8 320.2,685.3 319.4,685.4 318.6,685.9 317.8,686.9 317,687.4 316.2,683.2 315.4,686 314.6,685.6 313.8,687.5 313,689.4 312.2,688.1 311.4,691.3 310.6,687.9 309.8,692.9 309,692 308.2,693.2 307.4,690.9 306.6,689.8 305.8,693.3 305,693.7 304.2,692.4 303.4,692.5 302.6,688.7 301.8,691.4 301,686.7 300.2,684.1 299.4,683.6 298.6,682.3 297.8,683.5 297,681.9 296.2,680.2 295.4,678.2 294.6,679.3 293.8,676.9 293,674.4 292.2,673.3 291.4,675.2 290.6,672.7 289.8,676.9 289,676.9 288.2,674.7 287.4,677.8 286.6,677.2 285.8,677.3 285,674.8 284.2,675.6 283.4,675.1 282.6,678.1 281.8,681 281,683.3 280.2,685.1 279.4,687.9 278.6,688.8 277.8,687.4 277,693.1 276.2,692.2 275.4,697 274.6,699.5 273.8,699.8 273,705 272.2,706.7 271.4,706.8 270.6,708.9 269.8,710.7 269,709.4 268.2,711.9 267.4,710.3 266.6,711.6 265.8,713 265,713.6 264.2,716.8 263.4,715.1 262.6,714.2 261.8,716 261,715 260.2,719.1 259.4,714.5 258.6,717.5 257.8,713.5 257,714.8 256.2,715.8 255.4,713.7 254.6,714.8 253.8,710.3 253,711 252.2,711.7 251.4,710.6 250.6,706 249.8,704.8 249,703.9 248.2,702.3 247.4,702.8 246.6,700 245.8,697.4 245,695.2 244.2,696.8 243.4,692.4 242.6,692.3 241.8,685.9 241,683.9 240.2,682.7 239.4,683.8 238.6,682.2 237.8,680.6 237,679.4 236.2,674.1 235.4,673.2 234.6,670.6 233.8,669.1 233,669.7 232.2,668.6 231.4,667.8" fill="#add8e6" fill-opacity="0.2"/>
<polygon points="231.4,587.9 232.2,586.8 233,587.4 233.8,589.8 234.6,588.9 235.4,593.7 236.2,590.9 237,595.8 237.8,596.6 238.6,597.4 239.4,601.4 240.2,603 241,607.5 241.8,609.1 242.6,609.8 243.4,612.5 244.2,614.3 245,612.7 245.8,617.7 246.6,619.4 247.4,622 248.2,622 249,621.7 249.8,621.7 250.6,625.4 251.4,624.6 252.2,629 253,629.1 253.8,631.5 254.6,630.3 255.4,631 256.2,634.4 257,634.1 257.8,633.4 258.6,634.6 259.4,634.3 260.2,635.5 261,635.4 261.8,634.6 262.6,638.2 263.4,637.4 264.2,636.5 265,633.5 265.8,632.4 266.6,634 267.4,633.2 268.2,631.4 269,627.6 269.8,628.2 270.6,625.5 271.4,623.2 272.2,622.3 273,619.8 273.8,619.1 274.6,617.2 275.4,616.4 276.2,610.2 277,610.4 277.8,609.9 278.6,606.9 279.4,604.2 280.2,603.4 281,597.6 281.8,599.7 282.6,597 283.4,596 284.2,593.2 285,593.9 285.8,590.7 286.6,592.7 287.4,591.3 288.2,594.8 289,594.3 289.8,593 290.6,594.4 291.4,592.7 292.2,594.2 293,593.2 293.8,597.8 294.6,598 295.4,599.6 296.2,597 297,601.8 297.8,598.9 298.6,602.7 299.4,603.2 300.2,602.7 301,605.6 301.8,608.7 302.6,608.8 303.4,607.9 304.2,610.9 305,608.8 305.8,611.5 306.6,609.2 307.4,607.3 308.2,611.1 309,606.6 309.8,607.1 310.6,608.7 311.4,605.2 312.2,606.8 313,607.3 313.8,605.7 314.6,604.1 315.4,605.4 316.2,605.2 317,603.6 317.8,603.2 318.6,601.5 319.4,602 320.2,604.4 321,604.2 321.8,599.3 322.6,600.3 323.4,600.2 324.2,603.4 325,601.2 325.8,601.5 326.6,605.2 327.4,603.1 328.2,608.2 329,606.3 329.8,609.2 330.6,609.3 331.4,606.9 332.2,610 333,608.2 333.8,608.2 334.6,607.6 335.4,611.1 336.2,611.1 337,610.2 337.8,612.8 338.6,609.5 339.4,610.8 340.2,609.1 341,610.5 341.8,612.8 342.6,610.8 343.4,609.1 344.2,609 345,611.2 345.8,609.4 346.6,613.1 347.4,609.3 348.2,614.1 349,613.2 349.8,614.9 350.6,613.1 351.4,612.8 352.2,614.3 353,618.2 353.8,617.8 354.6,620.8 355.4,626.5 356.2,629.8 357,632.3 357.8,634.7 358.6,635.6 359.4,639.4 360.2,640.7 361,642.2 361.8,643.5 362.6,643.4 363.4,645.7 364.2,648.2 365,651.6 365.8,651.8 366.6,657.7 367.4,657 368.2,658.6 369,659.7 369.8,656.8 370.6,659.8 371.4,659.4 372.2,655.6 373,653.4 373.8,654.5 374.6,652.4 375.4,649.3 376.2,644 377,641.5 377.8,635.6 378.6,633.1 379.4,630.4 380.2,629.4 381,623 381.8,624.6 382.6,617 383.4,619.6 384.2,613.7 385,615.3 385.8,613.5 386.6,613.2 387.4,609.4 388.2,609.6 389,606.3 389.8,608.9 390.6,605.1 391.4,609 392.2,608 393,606.1 393.8,610.7 394.6,608.3 395.4,608.1 396.2,609.7 397,610.1 397.8,613.3 398.6,617 399.4,620.1 400.2,619.9 401,622.2 401.8,622.8 402.6,623.2 403.4,622.1 404.2,622.2 405,622.2 405.8,624.9 406.6,623.5 407.4,626.6 408.2,624.5 409,626 409.8,625.3 410.6,625.6 411.4,623.1 412.2,623.1 413,625 413.8,622.9 414.6,625 415.4,626.4 416.2,623.6 417,626.5 417.8,624.3 418.6,626.1 419.4,623.8 420.2,624.7 421,624 421.8,621.6 422.6,623 423.4,623.3 424.2,623.2 425,624.4 425.8,625.8 426.6,625 427.4,625 428.2,621.3 429,623.8 429.8,622.4 430.6,623.4 431.4,618.3 432.2,618.2 433,621.1 433.8,617.4 434.6,617.9 435.4,615.6 436.2,613.2 437,612.1 437.8,611.2 438.6,612.2 439.4,608.5 440.2,608.4 441,604.4 441.8,605.3 442.6,603.6 443.4,603.2 444.2,603.3 445,598.8 445.8,602.5 446.6,600.3 447.4,598.5 448.2,599 449,597.5 449.8,598.7 450.6,602.4 451.4,602.3 452.2,603.7 453,600.8 453.8,601.4 454.6,603.8 455.4,605.7 456.2,608.4 457,607.6 457.8,610.6 458.6,610.9 459.4,610.2 460.2,613.4 461,610.2 461.8,613.1 462.6,611.1 463.4,610.8 464.2,612.9 465,613 465.8,613.6 466.6,612 467.4,613.7 468.2,611.7 469,607.8 469.8,605.6 470.6,608.8 471.4,605 472.2,602.8 473,601.5 473.8,602.9 474.6,599.5 475.4,599.5 476.2,600.1 477,598.2 477.8,599.4 478.6,600.4 479.4,599.6 480.2,598.4 481,598.2 481.8,596.7 482.6,598.6 483.4,599 484.2,599.6 485,599.5 485.8,601.8 486.6,600.4 487.4,603.8 488.2,606 489,603.2 489.8,605.1 490.6,610 491.4,607.2 492.2,612.2 493,612.2 493.8,610.9 494.6,614.6 495.4,612 496.2,617 497,614.7 497.8,617.8 498.6,617.3 499.4,613.2 500.2,614.3 501,612.3 501.8,614.9 502.6,610.9 503.4,610.5 504.2,609.3 505,611.7 505.8,607.2 506.6,606.1 507.4,604.6 508.2,604 509,601.9 509.8,603.1 510.6,598.8 511.4,598 512.2,598.2 513,594.5 513.8,593.3 514.6,596 515.4,593.3 516.2,596.1 517,595.2 517.8,592.8 518.6,592.6 519.4,591.3 520.2,595.3 521,593.4 521.8,593.4 522.6,593.2 523.4,594 524.2,598.4 525,596.2 525.8,599.8 526.6,601.4 527.4,602.6 528.2,603.9 529,605.1 529.8,606.1 530.6,611.1 531.4,613.2 532.2,613.9 533,613.8 533.8,618.3 534.6,616.5 535.4,618.4 536.2,622.1 537,624.6 537.8,625.4 538.6,624.3 539.4,629.8 540.2,627.5 541,630.4 541.8,634.8 542.6,635.2 543.4,636.6 544.2,634 545,638.4 545.8,637.2 546.6,636.8 547.4,641 548.2,642.5 549,639.4 549.8,641.7 550.6,643.9 551.4,641.7 552.2,641.7 553,644.1 553.8,642.7 554.6,645.6 555.4,644.6 556.2,644 557,642.3 557.8,638.5 558.6,639.4 559.4,637.2 560.2,635 561,633.3 561.8,630.4 562.6,627.9 563.4,629.1 564.2,624.8 565,621.7 565.8,623.8 566.6,619.5 567.4,618.4 568.2,614.4 569,611.7 569.8,610.5 570.6,611.6 571.4,607.4 572.2,609.5 573,604.9 573.8,606.9 574.6,601.9 575.4,602.3 576.2,599.8 577,599.4 577.8,600.9 578.6,599.9 579.4,600.7 580.2,599 581,599.9 581.8,599.8 582.6,603.1 583.4,599.8 584.2,602.1 585,604.4 585.8,604.3 586.6,603.4 587.4,607.5 588.2,603.8 589,605.1 589.8,605.5 590.6,608.7 591.4,611.8 592.2,610.4 593,611.1 593.8,613.9 594.6,611.4 595.4,611.6 596.2,615.3 597,612.9 597.8,615.9 598.6,614.4 599.4,617 600.2,618 601,616.1 601.8,614.9 602.6,615.5 603.4,615.2 604.2,611.4 605,611.6 605.8,611.3 606.6,611.8 607.4,610.2 608.2,612 609,609.5 609.8,612.3 610.6,608.9 611.4,607.9 612.2,606.4 613,606.9 613.8,607.3 614.6,610.9 615.4,609.2 616.2,610 617,612.8 617.8,613.1 618.6,612.4 619.4,610 620.2,610.5 621,611.8 621.8,611.2 622.6,612.2 623.4,612.3 624.2,613.2 625,616.2 625.8,616.2 626.6,616.1 627.4,616.6 628.2,617.3 629,618.3 629.8,615.2 630.6,619.2 631.4,617.4 632.2,617.1 633,619.5 633.8,617.9 634.6,615.7 635.4,613.5 636.2,615.1 637,614.8 637.8,614.7 638.6,613.2 639.4,615.8 640.2,614.5 641,617.3 641.8,616.6 642.6,616 643.4,618.8 644.2,617.5 645,616.4 645.8,618 646.6,618 647.4,620.8 648.2,623.7 649,625.4 649.8,626.1 650.6,625.7 651.4,628.3 652.2,630.9 653,634.4 653.8,638.6 654.6,638.4 655.4,643.8 656.2,646.5 657,650.6 657.8,653.9 658.6,653.7 659.4,656.3 660.2,656 661,657.7 661.8,659.2 662.6,656.6 663.4,658.4 664.2,657.5 665,655.5 665.8,654.4 666.6,655.3 667.4,650.9 668.2,647.8 669,645.2 669.8,643.2 670.6,639.3 671.4,635.2 672.2,631.1 673,626.8 673.8,624.1 674.6,620.7 675.4,614.1 676.2,613.1 677,608.8 677.8,609.7 678.6,607.6 679.4,602.2 680.2,603.3 681,600.6 681.8,599.3 682.6,602.7 683.4,602.8 684.2,602.8 685,602 685.8,603.9 686.6,602.4 687.4,604 688.2,604.8 689,606.7 689.8,607.5 690.6,605.8 691.4,606.4 692.2,609.1 693,610.9 693.8,611.3 694.6,615 695.4,615.6 696.2,615.5 697,614.5 697.8,615.2 698.6,612.1 699.4,615.2 700.2,611.4 701,615 701.8,612.8 702.6,611 703.4,609.8 704.2,611.4 705,610.2 705.8,611.3 706.6,607.7 707.4,610.9 708.2,608.2 709,608 709.8,608.6 710.6,607.3 711.4,606 712.2,604.4 713,604.6 713.8,602.3 714.6,603.1 715.4,605.4 716.2,602.2 717,602 717.8,605.3 718.6,603 719.4,603.9 720.2,603.4 721,603.8 721.8,600.9 722.6,602.7 723.4,597.9 724.2,601.5 725,597.6 725.8,598.8 726.6,595.8 727.4,596.9 728.2,593.5 729,593.4 729.8,590.3 730.6,590.9 731.4,589 732.2,585 733,585.7 733.8,584.6 734.6,580 735.4,578.4 736.2,580.1 737,579.4 737.8,574.8 738.6,576.8 739.4,577 740.2,573.6 741,576 741.8,573.4 742.6,576.2 743.4,574.9 744.2,575.6 745,574.7 745.8,578.3 746.6,579.5 747.4,578.7 748.2,578.5 749,580 749.8,582.2 750.6,587.2 751.4,587.1 752.2,588.5 753,587.9 753.8,585.5 754.6,587 755.4,590.1 756.2,590 757,590.8 757.8,589.5 758.6,588.5 759.4,587.7 760.2,587.1 761,583.2 761.8,579.2 762.6,578.5 763.4,575.3 764.2,575 765,574.9 765.8,571.9 766.6,570.5 767.4,568.4 768.2,568.8 769,569 769.8,568.5 770.6,569.6 771.4,564.6 772.2,565.5 773,564.4 773.8,569.1 774.6,568.2 775.4,568.7 776.2,570 777,566.7 777.8,572.3 778.6,570.7 779.4,574.3 780.2,574.6 781,578 781.8,577.1 782.6,578.5 783.4,579.5 784.2,583 785,583 785.8,582.8 786.6,584.5 787.4,586.5 788.2,586.8 789,588.7 789.8,590.5 790.6,589.7 791.4,590.7 792.2,588.1 793,590.3 793.8,589.5 794.6,586.4 795.4,582.8 796.2,582 797,584.1 797.8,583.6 798.6,581.6 799.4,578.6 800.2,577.2 801,573.9 801.8,574.8 802.6,575.6 803.4,571 804.2,571.9 805,571.7 805.8,569.9 806.6,567.8 807.4,566.9 808.2,569.2 809,570 809.8,570.1 810.6,568 811.4,569.6 812.2,570.2 813,568.6 813.8,570.8 814.6,569.3 815.4,569.6 816.2,569.8 817,574.5 817.8,575.9 818.6,574.2 819.4,575.5 820.2,578.5 821,579.8 821.8,584.7 822.6,584.1 823.4,588 824.2,589.8 825,590.7 825.8,595 826.6,594.8 827.4,597 828.2,599.1 829,599.9 829.8,600.8 830.6,606.3 831.4,607.2 832.2,608.3 833,609.4 833.8,611.3 834.6,611.4 835.4,612.3 836.2,615.9 837,619.7 837.8,617.5 838.6,623.7 839.4,622.1 840.2,626.8 841,626.6 841.8,625.9 842.6,626.9 843.4,631.4 844.2,633.1 845,633.3 845.8,633 846.6,633.3 847.4,635 848.2,635.2 849,635.5 849.8,632.8 850.6,635 851.4,634.6 852.2,631.9 853,628 853.8,627.2 854.6,628.2 855.4,625.9 856.2,626.9 857,623.6 857.8,622.4 858.6,617.9 859.4,618.3 860.2,617.8 861,617.3 861.8,615.7 862.6,611.2 863.4,610.4 864.2,610.8 865,605 865.8,603.8 866.6,602.8 867.4,605 868.2,602.8 869,604.5 869.8,604.2 870.6,604 871.4,600.1 872.2,603.2 873,603.9 873.8,604.3 874.6,605.4 875.4,605.8 876.2,605.4 877,606.9 877.8,605.9 878.6,605 879.4,606.7 880.2,611.2 881,610.1 881.8,612.3 882.6,615.4 883.4,615.7 884.2,617.4 885,616.5 885.8,617.4 886.6,615.9 887.4,617.5 888.2,618.2 889,620.9 889.8,621.9 890.6,620.3 891.4,623.6 892.2,621.1 893,623.3 893.8,621.5 894.6,624.6 895.4,623.1 896.2,627.7 897,624.9 897.8,627.4 898.6,625.3 899.4,624.4 900.2,626.5 901,623.5 901.8,624.9 902.6,625.3 903.4,626.9 904.2,625.5 905,622.6 905.8,624.7 906.6,627.2 907.4,627.2 908.2,625.1 909,624.4 909.8,625.4 910.6,629 911.4,627.2 912.2,631.9 913,629.6 913.8,632.6 914.6,633.3 915.4,632.3 916.2,634.3 917,635.7 917.8,635 918.6,637.4 919.4,638.5 920.2,640.8 921,638.2 921.8,638.3 922.6,640.2 923.4,641.6 924.2,641.5 925,643.9 925.8,640.5 926.6,642.1 927.4,641.8 928.2,640.9 929,642.4 929.8,642.9 930.6,643.3 931.4,645.9 932.2,647.3 933,647.8 933.8,645 934.6,646.1 935.4,649.3 936.2,646.1 937,647.9 937.8,649.1 938.6,655.7 939.4,655.9 940.2,659.1 941,660.8 941.8,668.3 942.6,672.5 943.4,674.5 944.2,678.6 945,679.7 945.8,681.3 946.6,683 947.4,686 948.2,687.4 949,690.4 949.8,691 950.6,693 951.4,698.9 952.2,700.1 953,701.2 953.8,699.4 954.6,700.2 955.4,700.2 956.2,700.9 957,697.5 957.8,697.3 958.6,695.4 959.4,694.5 960.2,689.5 961,685.3 961.8,684 962.6,683.7 963.4,677.3 964.2,676.3 965,670.6 965.8,668.4 966.6,667.6 967.4,663.2 968.2,663.1 969,662 969.8,660 970.6,660.5 971.4,660.2 972.2,657.1 973,659.2 973.8,659 974.6,658.6 975.4,658.8 976.2,659 977,660.1 977.8,660.6 978.6,659.5 979.4,662.3 980.2,664.1 981,664.6 981.8,668.4 982.6,667.2 983.4,670.1 984.2,671.2 985,673.2 985.8,672.4 986.6,676.1 987.4,674.4 988.2,677.8 989,678.3 989.8,680.7 990.6,681.8 991.4,683.2 992.2,679.8 993,683.3 993.8,680.8 994.6,681.6 995.4,679 996.2,683 997,679.7 997.8,680.1 998.6,679.9 999.4,679.7 1000.2,680.3 1001,680.5 1001.8,682.3 1002.6,682 1003.4,684.7 1004.2,685.7 1005,686.2 1005.8,683.7 1006.6,685.3 1007.4,685.5 1008.2,685.7 1009,684.5 1009.8,683.8 1010.6,686.6 1011.4,686.5 1012.2,685 1013,686.6 1013.8,683.8 1014.6,687.7 1015.4,687.7 1016.2,688.1 1017,683.3 1017.8,684.9 1018.6,684.2 1019.4,680.1 1020.2,681 1021,677.2 1021.8,676.3 1022.6,674.3 1023.4,674.4 1024.2,676.1 1025,674.1 1025.8,673.7 1026.6,673.5 1027.4,668.8 1028.2,671.6 1029,671 1029.8,669.6 1030.6,667.6 1031.4,666.5 1032.2,667.6 1033,667.6 1033.8,667.6 1034.6,670 1035.4,670.4 1036.2,669.7 1037,670.6 1037.8,673.7 1038.6,676.6 1039.4,678.5 1040.2,680.1 1041,682.8 1041.8,683.6 1042.6,683.6 1043.4,686.2 1044.2,686.8 1045,686.3 1045.8,686.5 1046.6,688.5 1047.4,691 1048.2,692.1 1049,690.1 1049.8,691.4 1050.6,688.6 1051.4,691 1052.2,689.7 1053,690.3 1053.8,690.1 1054.6,684.9 1055.4,688.4 1056.2,683.3 1057,686.1 1057.8,684.6 1058.6,679.8 1059.4,679.4 1060.2,677.8 1061,681.5 1061.8,680.6 1062.6,681.4 1063.4,680.3 1064.2,677.8 1065,679.5 1065.8,677.4 1066.6,677.9 1067.4,678.6 1068.2,680.8 1069,680 1069.8,682.6 1070.6,683.9 1071.4,686.7 1072.2,686.7 1073,688 1073.8,690.2 1074.6,691 1075.4,693.6 1076.2,691.6 1077,693.4 1077.8,694.1 1078.6,697.6 1079.4,701.3 1080.2,701.8 1081,703.4 1081.8,705.5 1082.6,705.5 1083.4,703.2 1084.2,702.5 1085,703.7 1085.8,701.6 1086.6,702.9 1087.4,699.7 1088.2,700.3 1089,700.4 1089.8,697.1 1090.6,694.9 1091.4,696.4 1092.2,692.5 1093,695.2 1093.8,692.6 1094.6,693.2 1095.4,690.1 1096.2,688.8 1097,687 1097.8,685.2 1098.6,688.8 1099.4,685.2 1100.2,684.6 1101,688.4 1101.8,686.8 1102.6,687.4 1103.4,688.7 1104.2,687.8 1105,685.8 1105.8,686.1 1106.6,688.3 1107.4,689.3 1108.2,688.2 1109,689 1109.8,691.7 1110.6,691.3 1111.4,696.5 1112.2,697.5 1113,697.3 1113.8,701.1 1114.6,703.3 1115.4,703.5 1116.2,707.5 1117,711.6 1117.8,712.2 1118.6,715.9 1119.4,715.4 1120.2,721.3 1121,721.4 1121.8,723.1 1122.6,721.9 1123.4,725.6 1124.2,725.6 1125,730 1125.8,730.6 1126.6,732.9 1127.4,734.7 1128.2,735.6 1129,737.6 1129.8,740.1 1130.6,740 1131.4,743.5 1132.2,746.8 1133,746.6 1133.8,748.7 1134.6,744.8 1135.4,748.4 1136.2,746.7 1137,751.1 1137.8,749.5 1138.6,750.8 1139.4,750.7 1140.2,747.7 1141,747.4 1141.8,750.4 1142.6,750 1143.4,747.5 1144.2,744.8 1145,743.8 1145.8,746.5 1146.6,745 1147.4,742.4 1148.2,741.7 1149,740.7 1149.8,735.4 1150.6,737.6 1151.4,737.1 1152.2,735.2 1153,733.4 1153.8,729 1154.6,728.1 1155.4,724.1 1156.2,726.1 1157,723.8 1157.8,721.5 1158.6,718.5 1159.4,718.4 1160.2,718.9 1161,721.5 1161.8,718.9 1162.6,720.5 1163.4,716.6 1164.2,716.8 1165,716.9 1165.8,717.6 1166.6,720.6 1167.4,719.4 1168.2,720 1169,722.8 1169.8,723 1170.6,726.8 1171.4,727.1 1172.2,729.2 1173,728.3 1173.8,729.7 1174.6,731.3 1175.4,735.3 1176.2,736.4 1177,735.5 1177.8,736.2 1178.6,734.9 1179.4,739.7 1180.2,739.2 1181,739.3 1181.8,738.8 1182.6,740.8 1183.4,742.5 1184.2,741 1185,741.3 1185.8,742.2 1186.6,742 1187.4,739.7 1188.2,740.1 1189,741.5 1189.8,743 1190.6,741.2 1191.4,739 1192.2,739.9 1193,739.4 1193.8,742.7 1194.6,740 1195.4,743.8 1196.2,739.9 1197,739.6 1197.8,738.6 1198.6,741.6 1199.4,742.4 1200.2,744.5 1201,744.2 1201.8,744.4 1202.6,742.3 1203.4,747.1 1204.2,744.3 1205,745.4 1205.8,745.8 1206.6,748.9 1207.4,750.2 1208.2,749.4 1209,749.9 1209.8,749.5 1210.6,752.9 1211.4,754.1 1212.2,752.3 1213,753.5 1213.8,756.1 1214.6,756.9 1215.4,754.7 1216.2,759.2 1217,757.8 1217.8,758.6 1218.6,756.6 1219.4,760.1 1220.2,758.1 1221,759.8 1221.8,761.4 1222.6,761 1223.4,758 1224.2,757.9 1225,759.1 1225.8,759.9 1226.6,765.1 1227.4,764.8 1228.2,766.3 1229,767.3 1229.8,770.1 1230.6,772 1231.4,776.1 1232.2,777.2 1233,782.3 1233.8,784.9 1234.6,787.6 1235.4,789.4 1236.2,789.2 1237,792.8 1237.8,797.4 1238.6,797.7 1239.4,801.6 1240.2,802 1241,807.5 1241.8,807.5 1242.6,809.5 1243.4,812.8 1244.2,810.7 1245,811.6 1245.8,814.1 1246.6,814.9 1247.4,813.8 1248.2,815.2 1249,816.6 1249.8,816.6 1250.6,815.3 1251.4,812.5 1252.2,806.2 1253,804.3 1253.8,802.1 1254.6,797.4 1255.4,798.7 1256.2,793.6 1257,793.6 1257.8,790.3 1258.6,786 1259.4,783.8 1260.2,781.7 1261,778.7 1261.8,776.1 1262.6,776.7 1263.4,775.1 1264.2,774.8 1265,776.6 1265.8,775.7 1266.6,774 1267.4,771.7 1268.2,775.2 1269,773.5 1269.8,774.1 1270.6,777.9 1271.4,780 1272.2,778.5 1273,781.2 1273.8,784.2 1274.6,784 1275.4,784.4 1276.2,784.9 1277,785.8 1277.8,791.3 1278.6,792.4 1279.4,790.5 1280.2,793.6 1281,791.9 1281.8,795.8 1282.6,794.5 1283.4,796.6 1284.2,796.2 1285,794.6 1285.8,796.9 1286.6,797.3 1287.4,794.6 1288.2,794.8 1289,796.2 1289.8,798.8 1290.6,800.7 1291.4,798.5 1292.2,800.4 1293,799.5 1293.8,797.7 1294.6,798.5 1295.4,800.5 1296.2,799.1 1297,799.2 1297.8,800.3 1298.6,797.7 1299.4,799.5 1300.2,800.2 1301,800.8 1301.8,801.8 1302.6,799.9 1303.4,800.8 1304.2,801 1305,799.9 1305.8,803.5 1306.6,804.3 1307.4,802.4 1308.2,801.1 1309,799.9 1309.8,799.2 1310.6,798.1 1311.4,796.4 1312.2,798.3 1313,794.3 1313.8,792.1 1314.6,792.5 1315.4,787.9 1316.2,788.6 1317,788 1317.8,788.1 1318.6,785 1319.4,782.6 1320.2,786.2 1321,781.2 1321.8,783.5 1322.6,783.3 1323.4,785.7 1324.2,782.6 1325,782.1 1325.8,782 1326.6,783.2 1327.4,782.8 1328.2,787.6 1329,786.5 1329.8,789.2 1330.6,788.4 1331.4,791.9 1332.2,795 1333,793.3 1333.8,798.4 1334.6,796.6 1335.4,800.2 1336.2,802.5 1337,801.4 1337.8,804.6 1338.6,802.9 1339.4,804.1 1340.2,806.7 1341,805.4 1341.8,802.9 1342.6,802.7 1343.4,803.8 1344.2,802.6 1345,800.5 1345.8,803.6 1346.6,800.1 1347.4,801.6 1348.2,797.2 1349,795.2 1349.8,795.3 1350.6,796.6 1351.4,796.3 1352.2,794.1 1353,791.6 1353.8,792.2 1354.6,790.2 1355.4,790.3 1356.2,788.7 1357,789.2 1357.8,793.8 1358.6,793.7 1359.4,791.6 1360.2,794 1361,792 1361.8,797.4 1362.6,797.8 1363.4,800.3 1364.2,800.6 1365,802.1 1365.8,805.2 1366.6,804.2 1367.4,805 1368.2,806.4 1369,811.7 1369.8,810.3 1370.6,810.6 1371.4,814.1 1372.2,813.4 1373,815.9 1373.8,818.4 1374.6,816.9 1375.4,818.5 1376.2,821.3 1377,820.8 1377.8,820.8 1378.6,815.9 1379.4,819.3 1380.2,816.5 1381,813.6 1381.8,816.7 1382.6,811 1383.4,814 1384.2,807.9 1385,807.3 1385.8,808 1386.6,808.1 1387.4,806.9 1388.2,807.1 1389,802.3 1389.8,804.5 1390.6,801.3 1391.4,803.9 1392.2,801 1393,800.9 1393.8,797.2 1394.6,800.5 1395.4,797.3 1396.2,797.6 1397,798.8 1397.8,801.6 1398.6,800.5 1399.4,802.3 1400.2,803.7 1401,803.2 1401.8,804.1 1402.6,806.9 1403.4,809.9 1404.2,811.6 1405,811.3 1405.8,815.5 1406.6,818.3 1407.4,819.9 1408.2,819.8 1409,821.2 1409.8,827.8 1410.6,828.9 1411.4,829.3 1412.2,833.4 1413,834.3 1413.8,836.7 1414.6,837 1415.4,840.2 1416.2,840.3 1417,842.2 1417.8,843.6 1418.6,847.2 1419.4,849.1 1420.2,847.7 1421,848.1 1421.8,850 1422.6,853.7 1423.4,853.6 1424.2,853.3 1425,858.2 1425.8,857.6 1426.6,857.2 1427.4,861.5 1428.2,861.3 1429,864 1429.8,864.3 1430.6,864.4 1431.4,864.7 1432.2,862 1433,863.8 1433.8,861.5 1434.6,861.9 1435.4,858.5 1436.2,859.8 1437,855.4 1437.8,858.1 1438.6,853.2 1439.4,853.9 1440.2,853.3 1441,851.3 1441.8,848.9 1442.6,844.7 1443.4,840.5 1444.2,843.1 1445,837.8 1445.8,839 1446.6,834.7 1447.4,833.4 1448.2,832.4 1449,831.3 1449.8,831.1 1450.6,829.1 1451.4,825.8 1452.2,827 1453,824.1 1453.8,827.6 1454.6,824 1455.4,824.8 1456.2,825.7 1457,824.8 1457.8,827.5 1458.6,827.1 1459.4,825.4 1460.2,826.1 1461,828.2 1461.8,827.9 1462.6,829.6 1463.4,829.1 1464.2,831.9 1465,833.2 1465.8,836.5 1466.6,835 1467.4,838.4 1468.2,836.6 1469,838.8 1469.8,839.5 1470.6,844.4 1471.4,841.7 1472.2,844.3 1473,846.2 1473.8,848.5 1474.6,849.2 1475.4,847.3 1476.2,848.7 1477,850.3 1477.8,848.1 1478.6,847.7 1479.4,850.7 1480.2,846.4 1481,847 1481.8,846.9 1482.6,850.2 1483.4,847.9 1484.2,848.5 1485,848.3 1485.8,849.8 1486.6,845.4 1487.4,846.1 1488.2,846.6 1489,848.1 1489.8,846 1490.6,847.4 1491.4,848.1 1492.2,845.9 1493,847.9 1493.8,846.7 1494.6,851.5 1495.4,847.9 1496.2,849.4 1497,852.1 1497.8,851.1 1498.6,854.1 1499.4,853.9 1500.2,858.4 1501,856.8 1501.8,856.6 1502.6,856.4 1503.4,858.7 1504.2,861 1505,861.5 1505.8,862.3 1506.6,861.5 1507.4,863.7 1508.2,861.5 1509,862.6 1509.8,864.6 1510.6,864.2 1511.4,863.1 1512.2,864.5 1513,864.4 1513.8,862.4 1514.6,863 1515.4,864.9 1516.2,863.7 1517,864 1517.8,865.3 1518.6,864.2 1519.4,866.1 1520.2,871.2 1521,869 1521.8,873.5 1522.6,871.2 1523.4,874.8 1524.2,878.3 1525,880.6 1525.8,886.5 1526.6,889.2 1527.4,889.2 1528.2,891.3 1529,897.9 1529.8,900 1530.6,901.3 1531.4,901.6 1532.2,903.8 1533,909.6 1533.8,912 1534.6,913 1535.4,913.8 1536.2,914.8 1537,916.7 1537.8,918.1 1538.6,919.9 1539.4,919.3 1540.2,919.1 1541,918.1 1541.8,919.1 1542.6,919.5 1543.4,914.5 1544.2,915.4 1545,912.2 1545.8,908.6 1546.6,906.2 1547.4,907.6 1548.2,900.5 1549,896.5 1549.8,891.9 1550.6,891.2 1551.4,885.2 1552.2,879.9 1553,877.6 1553.8,875.6 1554.6,873.4 1555.4,870 1556.2,871.5 1557,869.2 1557.8,866.1 1558.6,864.9 1559.4,864 1560.2,862.4 1561,865.3 1561.8,864.3 1562.6,867 1563.4,868.5 1564.2,867.1 1565,868.1 1565.8,869.6 1566.6,872 1567.4,871.6 1568.2,874.7 1569,876 1569.8,876.9 1570.6,881.9 1571.4,882.3 1572.2,882.9 1573,881.7 1573.8,886.1 1574.6,885.4 1575.4,888.7 1576.2,888 1577,886.4 1577.8,888.9 1578.6,888.3 1579.4,887.3 1580.2,889.2 1581,886.5 1581.8,885.6 1582.6,884.5 1583.4,886.9 1584.2,884.9 1585,884.6 1585.8,883.7 1586.6,887.8 1587.4,886 1588.2,889.6 1589,889.7 1589.8,890 1590.6,887.1 1591.4,890.9 1592.2,889.6 1593,891 1593.8,891.2 1594.6,888.7 1595.4,888.7 1596.2,890.8 1597,887.7 1597.8,886.9 1598.6,886.1 1599.4,888.9 1600.2,887.3 1601,890 1601.8,884.5 1602.6,885.3 1603.4,885.4 1604.2,883.9 1605,883.8 1605.8,881.5 1606.6,881.3 1607.4,880.2 1608.2,878.2 1609,875.4 1609.8,872.7 1610.6,871.9 1611.4,869.3 1612.2,868.6 1613,869.1 1613.8,868 1614.6,867.7 1615.4,865.8 1616.2,870.1 1617,866.8 1617.8,867.9 1618.6,867.4 1619.4,869.2 1620.2,870.9 1621,872.7 1621.8,871.7 1622.6,874.1 1623.4,872 1624.2,874.1 1625,874.3 1625.8,878.7 1626.6,876.2 1627.4,878 1628.2,881.5 1629,880.4 1629.8,881 1630.6,883.3 1631.4,884.7 1632.2,885.6 1633,885 1633.8,885.8 1634.6,885.8 1635.4,885.3 1636.2,886.8 1637,885.7 1637.8,885.7 1638.6,888.7 1639.4,887.6 1640.2,883.5 1641,882 1641.8,878.1 1642.6,876.9 1643.4,877.9 1644.2,879.2 1645,874.5 1645.8,875.2 1646.6,875.8 1647.4,871.5 1648.2,874.2 1649,872.4 1649.8,875.3 1650.6,875.8 1651.4,876.1 1652.2,876 1653,873.2 1653.8,876.8 1654.6,877.1 1655.4,876.9 1656.2,877 1657,878.8 1657.8,879.6 1658.6,880.1 1658.6,895.1 1657.8,894.6 1657,893.8 1656.2,892 1655.4,891.9 1654.6,892.1 1653.8,891.8 1653,888.2 1652.2,891 1651.4,891.1 1650.6,890.8 1649.8,890.3 1649,887.4 1648.2,889.2 1647.4,886.5 1646.6,890.8 1645.8,890.2 1645,889.5 1644.2,894.2 1643.4,892.9 1642.6,891.9 1641.8,893.1 1641,897 1640.2,898.5 1639.4,902.6 1638.6,903.7 1637.8,900.7 1637,900.7 1636.2,901.8 1635.4,900.3 1634.6,900.8 1633.8,900.8 1633,900 1632.2,900.6 1631.4,899.7 1630.6,898.3 1629.8,896 1629,895.4 1628.2,896.5 1627.4,893 1626.6,891.2 1625.8,893.7 1625,889.3 1624.2,889.1 1623.4,887 1622.6,889.1 1621.8,886.7 1621,887.7 1620.2,885.9 1619.4,884.2 1618.6,882.4 1617.8,882.9 1617,881.8 1616.2,885.1 1615.4,880.8 1614.6,882.7 1613.8,883 1613,884.1 1612.2,883.6 1611.4,884.3 1610.6,886.9 1609.8,887.7 1609,890.4 1608.2,893.2 1607.4,895.2 1606.6,896.3 1605.8,896.5 1605,898.8 1604.2,898.9 1603.4,900.4 1602.6,900.3 1601.8,899.5 1601,905 1600.2,902.3 1599.4,903.9 1598.6,901.1 1597.8,901.9 1597,902.7 1596.2,905.8 1595.4,903.7 1594.6,903.7 1593.8,906.2 1593,906 1592.2,904.6 1591.4,905.9 1590.6,902.1 1589.8,905 1589,904.7 1588.2,904.6 1587.4,901 1586.6,902.8 1585.8,898.7 1585,899.6 1584.2,899.9 1583.4,901.9 1582.6,899.5 1581.8,900.6 1581,901.5 1580.2,904.2 1579.4,902.3 1578.6,903.3 1577.8,903.9 1577,901.4 1576.2,903 1575.4,903.7 1574.6,900.4 1573.8,901.2 1573,896.8 1572.2,898.1 1571.4,897.5 1570.6,897.2 1569.8,892.2 1569,891.5 1568.2,890.2 1567.4,887.2 1566.6,887.6 1565.8,885.2 1565,883.8 1564.2,882.9 1563.4,884.3 1562.6,882.9 1561.8,880.3 1561,881.3 1560.2,878 1559.4,879.2 1558.6,879.9 1557.8,880.6 1557,883.4 1556.2,885.4 1555.4,883.4 1554.6,886.5 1553.8,888.3 1553,890 1552.2,891.9 1551.4,896.8 1550.6,902.5 1549.8,902.9 1549,907.1 1548.2,910.8 1547.4,917.6 1546.6,915.8 1545.8,918 1545,921.2 1544.2,924 1543.4,922.9 1542.6,927.5 1541.8,926.8 1541,925.5 1540.2,926.1 1539.4,926.4 1538.6,927.2 1537.8,925.5 1537,924.3 1536.2,922.6 1535.4,921.7 1534.6,921.1 1533.8,920.2 1533,918 1532.2,912.4 1531.4,910.3 1530.6,910.2 1529.8,909 1529,907 1528.2,900.5 1527.4,898.5 1526.6,898.6 1525.8,896.1 1525,890.2 1524.2,888 1523.4,884.7 1522.6,881.1 1521.8,883.6 1521,879.2 1520.2,881.5 1519.4,876.5 1518.6,874.7 1517.8,875.9 1517,874.7 1516.2,874.6 1515.4,875.9 1514.6,874 1513.8,873.4 1513,875.3 1512.2,875.4 1511.4,874 1510.6,875.1 1509.8,875.4 1509,873.5 1508.2,872.3 1507.4,874.5 1506.6,872.3 1505.8,873 1505,872.3 1504.2,871.7 1503.4,869.4 1502.6,867.1 1501.8,867.3 1501,867.5 1500.2,869 1499.4,864.5 1498.6,864.7 1497.8,861.7 1497,862.6 1496.2,859.9 1495.4,858.4 1494.6,862 1493.8,857.3 1493,858.6 1492.2,856.6 1491.4,858.9 1490.6,858.3 1489.8,857 1489,859.2 1488.2,857.8 1487.4,857.4 1486.6,856.7 1485.8,861.2 1485,859.8 1484.2,860.1 1483.4,859.5 1482.6,861.9 1481.8,858.8 1481,858.9 1480.2,858.4 1479.4,862.7 1478.6,859.9 1477.8,860.3 1477,862.7 1476.2,861.2 1475.4,859.9 1474.6,861.9 1473.8,861.3 1473,859.1 1472.2,857.3 1471.4,854.8 1470.6,857.6 1469.8,852.8 1469,852.2 1468.2,850.1 1467.4,852 1466.6,848.6 1465.8,850.3 1465,847.1 1464.2,845.9 1463.4,843.2 1462.6,843.7 1461.8,842.2 1461,842.6 1460.2,840.6 1459.4,839.9 1458.6,841.7 1457.8,842.1 1457,839.5 1456.2,840.4 1455.4,839.5 1454.6,838.8 1453.8,842.4 1453,839 1452.2,842 1451.4,840.8 1450.6,844.1 1449.8,846.1 1449,846.4 1448.2,847.6 1447.4,848.6 1446.6,849.9 1445.8,854.2 1445,853.1 1444.2,858.5 1443.4,856 1442.6,860.1 1441.8,864.4 1441,866.8 1440.2,868.9 1439.4,869.5 1438.6,868.8 1437.8,873.7 1437,871 1436.2,875.4 1435.4,874.1 1434.6,877.5 1433.8,877.1 1433,879.4 1432.2,877.6 1431.4,880.3 1430.6,880 1429.8,879.9 1429,879.6 1428.2,876.9 1427.4,877.1 1426.6,872.8 1425.8,873.2 1425,873.8 1424.2,868.9 1423.4,869.2 1422.6,869.3 1421.8,865.6 1421,863.7 1420.2,863.3 1419.4,864.7 1418.6,862.8 1417.8,859.3 1417,857.8 1416.2,855.9 1415.4,855.8 1414.6,852.6 1413.8,852.3 1413,849.9 1412.2,849 1411.4,844.9 1410.6,844.5 1409.8,843.4 1409,836.8 1408.2,835.4 1407.4,835.5 1406.6,833.9 1405.8,831.1 1405,826.9 1404.2,827.2 1403.4,825.5 1402.6,822.5 1401.8,819.7 1401,818.8 1400.2,819.3 1399.4,817.9 1398.6,816.1 1397.8,817.2 1397,814.4 1396.2,813.2 1395.4,812.9 1394.6,816.1 1393.8,812.8 1393,816.6 1392.2,816.6 1391.4,819.5 1390.6,816.9 1389.8,820.1 1389,817.9 1388.2,822.7 1387.4,822.5 1386.6,823.7 1385.8,823.6 1385,823 1384.2,823.5 1383.4,829.6 1382.6,826.6 1381.8,832.3 1381,829.2 1380.2,832.1 1379.4,834.9 1378.6,831.5 1377.8,836.4 1377,836.4 1376.2,836.9 1375.4,834.2 1374.6,832.5 1373.8,834 1373,831.5 1372.2,829 1371.4,829.7 1370.6,826.3 1369.8,825.9 1369,827.3 1368.2,822 1367.4,820.6 1366.6,819.8 1365.8,820.8 1365,817.7 1364.2,816.2 1363.4,815.9 1362.6,813.4 1361.8,813 1361,807.6 1360.2,809.7 1359.4,807.2 1358.6,809.3 1357.8,809.4 1357,804.8 1356.2,804.4 1355.4,805.9 1354.6,805.8 1353.8,807.8 1353,807.3 1352.2,809.7 1351.4,811.9 1350.6,812.2 1349.8,810.9 1349,810.8 1348.2,812.8 1347.4,817.2 1346.6,815.7 1345.8,819.2 1345,816.1 1344.2,818.3 1343.4,819.4 1342.6,818.4 1341.8,818.5 1341,821 1340.2,822.3 1339.4,819.8 1338.6,818.5 1337.8,820.2 1337,817 1336.2,818.2 1335.4,815.8 1334.6,812.2 1333.8,814 1333,808.9 1332.2,810.7 1331.4,807.5 1330.6,804.1 1329.8,804.8 1329,802.1 1328.2,803.2 1327.4,798.4 1326.6,798.9 1325.8,797.6 1325,797.7 1324.2,798.2 1323.4,801.4 1322.6,798.9 1321.8,799.1 1321,796.8 1320.2,801.9 1319.4,798.2 1318.6,800.6 1317.8,803.7 1317,803.6 1316.2,804.2 1315.4,803.6 1314.6,808.1 1313.8,807.7 1313,809.9 1312.2,813.9 1311.4,812 1310.6,813.7 1309.8,814.8 1309,815.5 1308.2,816.7 1307.4,818.1 1306.6,820 1305.8,819.1 1305,815.5 1304.2,816.6 1303.4,816.5 1302.6,815.6 1301.8,817.4 1301,816.4 1300.2,815.8 1299.4,815.2 1298.6,813.3 1297.8,815.9 1297,814.9 1296.2,814.8 1295.4,816.1 1294.6,814.1 1293.8,813.4 1293,815.1 1292.2,816 1291.4,814.2 1290.6,816.4 1289.8,814.5 1289,811.9 1288.2,810.4 1287.4,810.2 1286.6,812.9 1285.8,812.5 1285,810.2 1284.2,811.8 1283.4,812.3 1282.6,810.2 1281.8,811.4 1281,807.5 1280.2,809.2 1279.4,806.1 1278.6,808 1277.8,806.9 1277,801.5 1276.2,800.6 1275.4,800.1 1274.6,799.6 1273.8,799.8 1273,796.9 1272.2,794.1 1271.4,795.6 1270.6,793.5 1269.8,789.7 1269,789.1 1268.2,790.8 1267.4,787.4 1266.6,789.7 1265.8,791.3 1265,792.3 1264.2,790.4 1263.4,790.7 1262.6,792.4 1261.8,791.8 1261,794.3 1260.2,797.4 1259.4,799.4 1258.6,801.7 1257.8,806 1257,809.3 1256.2,809.2 1255.4,814.3 1254.6,813.1 1253.8,817.7 1253,819.9 1252.2,821.8 1251.4,828.1 1250.6,830.9 1249.8,832.3 1249,832.3 1248.2,830.8 1247.4,829.4 1246.6,830.5 1245.8,829.7 1245,827.2 1244.2,826.3 1243.4,828.4 1242.6,825.1 1241.8,823.1 1241,823.1 1240.2,817.6 1239.4,817.2 1238.6,813.3 1237.8,813.1 1237,808.4 1236.2,804.9 1235.4,805.1 1234.6,803.2 1233.8,800.5 1233,797.9 1232.2,792.8 1231.4,791.7 1230.6,787.6 1229.8,785.7 1229,782.9 1228.2,782 1227.4,780.5 1226.6,780.7 1225.8,775.5 1225,774.8 1224.2,773.5 1223.4,773.6 1222.6,776.6 1221.8,777.1 1221,775.4 1220.2,773.7 1219.4,775.7 1218.6,772.3 1217.8,774.3 1217,773.5 1216.2,774.8 1215.4,770.4 1214.6,772.5 1213.8,771.8 1213,769.1 1212.2,767.9 1211.4,769.8 1210.6,768.5 1209.8,765.1 1209,765.6 1208.2,765 1207.4,765.9 1206.6,764.5 1205.8,761.5 1205,761 1204.2,759.9 1203.4,762.7 1202.6,758 1201.8,760.1 1201,759.8 1200.2,760.1 1199.4,758 1198.6,757.2 1197.8,754.3 1197,755.2 1196.2,755.5 1195.4,759.4 1194.6,755.7 1193.8,758.3 1193,755 1192.2,755.6 1191.4,754.7 1190.6,756.9 1189.8,758.6 1189,757.1 1188.2,755.7 1187.4,755.3 1186.6,757.7 1185.8,757.8 1185,756.9 1184.2,756.6 1183.4,758.1 1182.6,756.5 1181.8,754.5 1181,755 1180.2,754.8 1179.4,755.3 1178.6,750.5 1177.8,751.8 1177,751.1 1176.2,752.1 1175.4,751 1174.6,747 1173.8,745.3 1173,744 1172.2,744.9 1171.4,742.8 1170.6,742.4 1169.8,738.6 1169,738.4 1168.2,735.7 1167.4,735.1 1166.6,736.3 1165.8,733.2 1165,732.5 1164.2,732.5 1163.4,732.2 1162.6,736.1 1161.8,734.5 1161,737.1 1160.2,734.5 1159.4,734.1 1158.6,734.1 1157.8,737.1 1157,739.5 1156.2,741.7 1155.4,739.7 1154.6,743.8 1153.8,744.6 1153,749.1 1152.2,750.8 1151.4,752.8 1150.6,753.2 1149.8,751.1 1149,756.3 1148.2,757.3 1147.4,758 1146.6,760.6 1145.8,762.1 1145,759.5 1144.2,760.5 1143.4,763.2 1142.6,765.6 1141.8,766 1141,763 1140.2,763.3 1139.4,766.4 1138.6,766.5 1137.8,765.1 1137,766.8 1136.2,762.3 1135.4,764.1 1134.6,760.5 1133.8,764.4 1133,762.3 1132.2,762.4 1131.4,759.2 1130.6,755.7 1129.8,755.8 1129,753.2 1128.2,751.2 1127.4,750.4 1126.6,748.5 1125.8,746.3 1125,745.6 1124.2,741.3 1123.4,741.2 1122.6,737.5 1121.8,738.7 1121,737 1120.2,737 1119.4,731 1118.6,731.5 1117.8,727.8 1117,727.3 1116.2,723.1 1115.4,719.2 1114.6,719 1113.8,716.8 1113,713 1112.2,713.2 1111.4,712.1 1110.6,706.9 1109.8,707.4 1109,704.7 1108.2,703.8 1107.4,704.9 1106.6,704 1105.8,701.8 1105,701.4 1104.2,703.4 1103.4,704.4 1102.6,703.1 1101.8,702.4 1101,704 1100.2,700.2 1099.4,700.9 1098.6,704.5 1097.8,700.8 1097,702.6 1096.2,704.4 1095.4,705.8 1094.6,708.8 1093.8,708.2 1093,710.8 1092.2,708.1 1091.4,712.1 1090.6,710.5 1089.8,712.7 1089,716.1 1088.2,715.9 1087.4,715.3 1086.6,718.6 1085.8,717.3 1085,719.4 1084.2,718.1 1083.4,718.9 1082.6,721.1 1081.8,721.2 1081,719.1 1080.2,717.5 1079.4,716.9 1078.6,713.3 1077.8,709.8 1077,709 1076.2,707.3 1075.4,709.3 1074.6,706.6 1073.8,705.9 1073,703.7 1072.2,702.4 1071.4,702.3 1070.6,699.6 1069.8,698.2 1069,695.6 1068.2,696.5 1067.4,694.3 1066.6,693.5 1065.8,693 1065,695.1 1064.2,693.4 1063.4,696 1062.6,697 1061.8,696.2 1061,697.1 1060.2,693.5 1059.4,695 1058.6,695.5 1057.8,700.2 1057,701.7 1056.2,698.9 1055.4,704 1054.6,700.5 1053.8,705.7 1053,706 1052.2,705.3 1051.4,706.6 1050.6,704.3 1049.8,707 1049,705.8 1048.2,707.8 1047.4,706.7 1046.6,704.2 1045.8,702.2 1045,702 1044.2,702.5 1043.4,701.9 1042.6,699.3 1041.8,699.3 1041,698.4 1040.2,695.8 1039.4,694.2 1038.6,692.3 1037.8,689.3 1037,686.2 1036.2,685.4 1035.4,686 1034.6,685.6 1033.8,683.2 1033,683.2 1032.2,683.2 1031.4,682.1 1030.6,683.3 1029.8,685.2 1029,686.7 1028.2,687.2 1027.4,684.5 1026.6,689.2 1025.8,689.4 1025,689.7 1024.2,691.8 1023.4,690 1022.6,689.9 1021.8,692 1021,692.9 1020.2,696.6 1019.4,695.7 1018.6,699.9 1017.8,700.6 1017,699 1016.2,703.8 1015.4,703.4 1014.6,703.4 1013.8,699.5 1013,702.3 1012.2,700.6 1011.4,702.1 1010.6,702.3 1009.8,699.5 1009,700.2 1008.2,701.4 1007.4,701.2 1006.6,701 1005.8,699.3 1005,701.9 1004.2,701.4 1003.4,700.4 1002.6,697.7 1001.8,697.9 1001,696.2 1000.2,695.9 999.4,695.4 998.6,695.6 997.8,695.8 997,695.4 996.2,698.6 995.4,694.6 994.6,697.2 993.8,696.5 993,698.9 992.2,695.4 991.4,698.9 990.6,697.5 989.8,696.4 989,693.9 988.2,693.4 987.4,690.1 986.6,691.8 985.8,688 985,688.9 984.2,686.9 983.4,685.7 982.6,682.9 981.8,684.1 981,680.3 980.2,679.8 979.4,678 978.6,675.2 977.8,676.3 977,675.8 976.2,674.7 975.4,674.5 974.6,674.3 973.8,674.7 973,674.9 972.2,672.8 971.4,675.8 970.6,676.2 969.8,675.7 969,677.7 968.2,678.7 967.4,678.9 966.6,683.3 965.8,684.1 965,686.2 964.2,691.9 963.4,693 962.6,699.4 961.8,699.7 961,701 960.2,705.2 959.4,710.2 958.6,711.1 957.8,712.9 957,713.2 956.2,716.6 955.4,715.9 954.6,715.9 953.8,715.1 953,716.9 952.2,715.8 951.4,714.6 950.6,708.7 949.8,706.7 949,706.1 948.2,703 947.4,701.7 946.6,698.7 945.8,697 945,695.4 944.2,694.3 943.4,690.2 942.6,688.1 941.8,684 941,676.5 940.2,674.8 939.4,671.6 938.6,671.4 937.8,664.7 937,663.5 936.2,661.8 935.4,665 934.6,661.7 933.8,660.7 933,663.5 932.2,663 931.4,661.6 930.6,659 929.8,658.6 929,658.1 928.2,656.6 927.4,657.5 926.6,657.8 925.8,656.2 925,659.5 924.2,657.1 923.4,657.3 922.6,655.9 921.8,654 921,653.9 920.2,656.5 919.4,654.1 918.6,653.1 917.8,650.7 917,651.4 916.2,650 915.4,648 914.6,649 913.8,648.3 913,645.3 912.2,647.5 911.4,642.8 910.6,644.7 909.8,641.1 909,640.1 908.2,640.8 907.4,642.9 906.6,642.9 905.8,640.4 905,638.3 904.2,641.2 903.4,642.6 902.6,641 901.8,640.6 901,639.2 900.2,642.2 899.4,640.1 898.6,641 897.8,643.1 897,640.6 896.2,643.4 895.4,638.8 894.6,640.3 893.8,637.2 893,639 892.2,636.8 891.4,639.3 890.6,636 889.8,637.6 889,636.6 888.2,633.9 887.4,633.2 886.6,631.6 885.8,633.1 885,632.1 884.2,633.1 883.4,631.4 882.6,631.1 881.8,628 881,625.8 880.2,626.9 879.4,622.4 878.6,620.7 877.8,621.6 877,622.6 876.2,621.1 875.4,621.5 874.6,621.1 873.8,620 873,619.6 872.2,618.9 871.4,615.8 870.6,619.7 869.8,619.9 869,620.2 868.2,618.5 867.4,620.7 866.6,618.5 865.8,619.5 865,620.7 864.2,626.5 863.4,626.1 862.6,626.9 861.8,631.4 861,633 860.2,633.5 859.4,634 858.6,633.6 857.8,638.1 857,639.3 856.2,642.6 855.4,641.5 854.6,643.9 853.8,642.9 853,643.7 852.2,647.6 851.4,650.3 850.6,650.7 849.8,648.5 849,651.2 848.2,650.9 847.4,650.7 846.6,649 845.8,648.7 845,649 844.2,648.8 843.4,647.1 842.6,642.6 841.8,641.6 841,642.3 840.2,642.5 839.4,637.8 838.6,639.4 837.8,633.2 837,635.4 836.2,631.6 835.4,628 834.6,627.1 833.8,627 833,625.1 832.2,624 831.4,622.9 830.6,622 829.8,616.5 829,615.6 828.2,614.8 827.4,612.7 826.6,610.5 825.8,610.7 825,606.4 824.2,605.5 823.4,603.7 822.6,599.8 821.8,600.4 821,595.5 820.2,594.2 819.4,591.2 818.6,589.9 817.8,591.6 817,590.2 816.2,585.5 815.4,585.3 814.6,585 813.8,586.5 813,584.3 812.2,585.9 811.4,585.3 810.6,583.7 809.8,585.8 809,585.7 808.2,584.9 807.4,582.6 806.6,583.5 805.8,585.6 805,587.4 804.2,587.6 803.4,586.7 802.6,591.3 801.8,590.5 801,589.6 800.2,592.9 799.4,594.3 798.6,597.3 797.8,599.3 797,599.8 796.2,597.7 795.4,598.5 794.6,602.1 793.8,605.2 793,606 792.2,603.8 791.4,606.4 790.6,605.4 789.8,606.2 789,604.4 788.2,602.5 787.4,602.2 786.6,600.2 785.8,598.5 785,598.7 784.2,598.7 783.4,595.2 782.6,594.2 781.8,592.8 781,593.7 780.2,590.3 779.4,590.1 778.6,586.4 777.8,588 777,582.4 776.2,585.7 775.4,584.4 774.6,583.9 773.8,584.8 773,580.1 772.2,581.2 771.4,580.3 770.6,585.3 769.8,584.3 769,584.7 768.2,584.5 767.4,584.2 766.6,586.2 765.8,587.7 765,590.6 764.2,590.7 763.4,591 762.6,594.2 761.8,594.9 761,598.9 760.2,602.8 759.4,603.4 758.6,604.2 757.8,605.2 757,606.5 756.2,605.7 755.4,605.8 754.6,602.7 753.8,601.2 753,603.6 752.2,604.2 751.4,602.8 750.6,602.9 749.8,597.9 749,595.7 748.2,594.2 747.4,594.4 746.6,595.2 745.8,594 745,590.4 744.2,591.3 743.4,590.6 742.6,591.9 741.8,589.1 741,591.8 740.2,589.3 739.4,592.7 738.6,592.5 737.8,590.5 737,595.1 736.2,595.8 735.4,594.1 734.6,595.8 733.8,600.4 733,601.5 732.2,600.7 731.4,604.8 730.6,606.6 729.8,606 729,609.1 728.2,609.2 727.4,612.7 726.6,611.5 725.8,614.5 725,613.4 724.2,617.2 723.4,613.6 722.6,618.4 721.8,616.7 721,619.5 720.2,619.2 719.4,619.6 718.6,618.8 717.8,621 717,617.7 716.2,618 715.4,621.1 714.6,618.8 713.8,618.1 713,620.3 712.2,620.1 711.4,621.8 710.6,623.1 709.8,624.3 709,623.7 708.2,623.9 707.4,626.7 706.6,623.4 705.8,627 705,625.9 704.2,627.1 703.4,625.5 702.6,626.7 701.8,628.5 701,630.7 700.2,627.2 699.4,630.9 698.6,627.9 697.8,630.9 697,630.2 696.2,631.3 695.4,631.4 694.6,630.7 693.8,627.1 693,626.6 692.2,624.8 691.4,622.2 690.6,621.6 689.8,623.2 689,622.5 688.2,620.5 687.4,619.7 686.6,618.1 685.8,619.7 685,617.8 684.2,618.5 683.4,618.6 682.6,618.4 681.8,615 681,616.3 680.2,619 679.4,617.9 678.6,623.3 677.8,625.4 677,624.5 676.2,628.8 675.4,629.8 674.6,636.4 673.8,639.8 673,642.5 672.2,646.8 671.4,650.9 670.6,655 669.8,659 669,660.9 668.2,663.5 667.4,666.6 666.6,671 665.8,670.1 665,671.2 664.2,673.2 663.4,674.2 662.6,672.3 661.8,674.9 661,673.4 660.2,671.7 659.4,672 658.6,669.4 657.8,669.6 657,666.3 656.2,662.2 655.4,659.5 654.6,654.2 653.8,654.3 653,650.1 652.2,646.6 651.4,644.1 650.6,641.4 649.8,641.8 649,641.2 648.2,639.5 647.4,636.5 646.6,633.7 645.8,633.7 645,632.1 644.2,633.3 643.4,634.5 642.6,631.8 641.8,632.4 641,633 640.2,630.2 639.4,631.5 638.6,628.9 637.8,630.4 637,630.5 636.2,630.9 635.4,629.3 634.6,631.4 633.8,633.7 633,635.3 632.2,632.9 631.4,633.2 630.6,634.9 629.8,631 629,634 628.2,633.1 627.4,632.4 626.6,631.9 625.8,631.9 625,632 624.2,628.9 623.4,628 622.6,628 621.8,626.9 621,627.5 620.2,626.3 619.4,625.7 618.6,628.1 617.8,628.8 617,628.5 616.2,625.8 615.4,625 614.6,626.6 613.8,623.1 613,622.6 612.2,622.2 611.4,623.6 610.6,624.6 609.8,628.1 609,625.3 608.2,627.8 607.4,625.9 606.6,627.6 605.8,627.1 605,627.3 604.2,627.1 603.4,630.9 602.6,631.3 601.8,630.6 601,631.8 600.2,633.7 599.4,632.7 598.6,630.1 597.8,631.6 597,628.7 596.2,631 595.4,627.4 594.6,627.1 593.8,629.6 593,626.8 592.2,626.1 591.4,627.5 590.6,624.4 589.8,621.2 589,620.8 588.2,619.5 587.4,623.3 586.6,619.1 585.8,620.1 585,620.2 584.2,617.8 583.4,615.5 582.6,618.8 581.8,615.6 581,615.7 580.2,614.7 579.4,616.5 578.6,615.6 577.8,616.6 577,615.2 576.2,615.5 575.4,618.1 574.6,617.6 573.8,622.6 573,620.6 572.2,625.3 571.4,623.1 570.6,627.3 569.8,626.2 569,627.4 568.2,630.1 567.4,634.1 566.6,635.2 565.8,639.5 565,637.4 564.2,640.6 563.4,644.9 562.6,643.7 561.8,646.2 561,649.1 560.2,650.8 559.4,652.9 558.6,655.1 557.8,654.3 557,658.1 556.2,659.8 555.4,660.4 554.6,661.4 553.8,658.4 553,659.8 552.2,657.4 551.4,657.5 550.6,659.6 549.8,657.4 549,655.1 548.2,658.2 547.4,656.7 546.6,652.5 545.8,653 545,654.2 544.2,649.8 543.4,652.3 542.6,650.9 541.8,650.6 541,646.1 540.2,643.3 539.4,645.6 538.6,640.1 537.8,641.2 537,640.4 536.2,637.8 535.4,634.2 534.6,632.3 533.8,634.1 533,629.5 532.2,629.7 531.4,629 530.6,626.8 529.8,621.8 529,620.9 528.2,619.6 527.4,618.4 526.6,617.1 525.8,615.6 525,611.9 524.2,614.1 523.4,609.8 522.6,608.9 521.8,609.2 521,609.2 520.2,611.1 519.4,607.1 518.6,608.4 517.8,608.6 517,611 516.2,611.8 515.4,609.1 514.6,611.7 513.8,609 513,610.3 512.2,614 511.4,613.8 510.6,614.6 509.8,618.8 509,617.6 508.2,619.8 507.4,620.4 506.6,621.8 505.8,623 505,627.5 504.2,625 503.4,626.2 502.6,626.6 501.8,630.6 501,628 500.2,630 499.4,629 498.6,633 497.8,633.6 497,630.4 496.2,632.8 495.4,627.7 494.6,630.4 493.8,626.6 493,628 492.2,627.9 491.4,623 490.6,625.7 489.8,620.9 489,618.9 488.2,621.8 487.4,619.5 486.6,616.1 485.8,617.5 485,615.3 484.2,615.3 483.4,614.7 482.6,614.4 481.8,612.5 481,614 480.2,614.2 479.4,615.3 478.6,616.2 477.8,615.2 477,614 476.2,615.8 475.4,615.2 474.6,615.2 473.8,618.6 473,617.2 472.2,618.6 471.4,620.8 470.6,624.6 469.8,621.4 469,623.6 468.2,627.4 467.4,629.5 466.6,627.8 465.8,629.4 465,628.8 464.2,628.7 463.4,626.6 462.6,626.9 461.8,628.9 461,626 460.2,629.1 459.4,625.9 458.6,626.6 457.8,626.4 457,623.3 456.2,624.1 455.4,621.5 454.6,619.6 453.8,617.2 453,616.6 452.2,619.4 451.4,618.1 450.6,618.1 449.8,614.5 449,613.3 448.2,614.8 447.4,614.3 446.6,616.1 445.8,618.3 445,614.6 444.2,619.1 443.4,619 442.6,619.4 441.8,621 441,620.2 440.2,624.2 439.4,624.2 438.6,627.9 437.8,627 437,627.9 436.2,629 435.4,631.3 434.6,633.7 433.8,633.2 433,636.9 432.2,634 431.4,634.1 430.6,639.2 429.8,638.2 429,639.5 428.2,637 427.4,640.8 426.6,640.8 425.8,641.6 425,640.2 424.2,639 423.4,639 422.6,638.8 421.8,637.4 421,639.8 420.2,640.4 419.4,639.6 418.6,641.9 417.8,640.1 417,642.2 416.2,639.4 415.4,642.1 414.6,640.8 413.8,638.7 413,640.8 412.2,638.9 411.4,638.9 410.6,641.3 409.8,641.1 409,641.8 408.2,640.3 407.4,642.4 406.6,639.3 405.8,640.6 405,638 404.2,638 403.4,637.9 402.6,639 401.8,638.6 401,638 400.2,635.7 399.4,635.9 398.6,632.8 397.8,629.1 397,625.9 396.2,625.5 395.4,623.8 394.6,624.1 393.8,626.5 393,621.9 392.2,623.8 391.4,624.8 390.6,620.9 389.8,624.7 389,622.1 388.2,625.4 387.4,625.1 386.6,629 385.8,629.3 385,631.1 384.2,629.4 383.4,635.4 382.6,632.8 381.8,640.4 381,638.8 380.2,645.1 379.4,646.1 378.6,648.9 377.8,651.4 377,657.2 376.2,659.7 375.4,665.1 374.6,668.2 373.8,670.3 373,669.2 372.2,671.4 371.4,675.2 370.6,675.6 369.8,672.6 369,675.5 368.2,674.4 367.4,672.8 366.6,673.5 365.8,667.6 365,667.4 364.2,664 363.4,661.5 362.6,659.2 361.8,659.2 361,658 360.2,656.5 359.4,655.2 358.6,651.3 357.8,650.5 357,648.1 356.2,645.5 355.4,642.3 354.6,636.6 353.8,633.6 353,634 352.2,630 351.4,628.6 350.6,628.8 349.8,630.7 349,629 348.2,629.9 347.4,625.1 346.6,628.9 345.8,625.2 345,627 344.2,624.8 343.4,624.9 342.6,626.6 341.8,628.6 341,626.3 340.2,624.9 339.4,626.6 338.6,625.3 337.8,628.6 337,626 336.2,626.9 335.4,626.9 334.6,623.4 333.8,623.9 333,624 332.2,625.8 331.4,622.7 330.6,625.1 329.8,625 329,622.1 328.2,624 327.4,618.9 326.6,621 325.8,617.3 325,617 324.2,619.2 323.4,615.9 322.6,616.1 321.8,615.1 321,620 320.2,620.2 319.4,617.8 318.6,617.3 317.8,619 317,619.4 316.2,621 315.4,621.2 314.6,619.9 313.8,621.5 313,623.1 312.2,622.6 311.4,621 310.6,624.5 309.8,622.8 309,622.4 308.2,626.9 307.4,623.1 306.6,624.9 305.8,627.3 305,624.6 304.2,626.7 303.4,623.7 302.6,624.6 301.8,624.5 301,621.4 300.2,618.5 299.4,619 298.6,618.5 297.8,614.7 297,617.6 296.2,612.8 295.4,615.4 294.6,613.8 293.8,613.5 293,609 292.2,610 291.4,608.4 290.6,610.2 289.8,608.8 289,610.1 288.2,610.6 287.4,607.1 286.6,608.5 285.8,606.5 285,609.7 284.2,609 283.4,611.7 282.6,612.8 281.8,615.5 281,613.4 280.2,619.2 279.4,619.9 278.6,622.7 277.8,625.7 277,626.2 276.2,626 275.4,632.2 274.6,633 273.8,634.9 273,635.6 272.2,638.1 271.4,638.9 270.6,641.3 269.8,644 269,643.4 268.2,647.2 267.4,649 266.6,649.8 265.8,648.2 265,649.3 264.2,652.3 263.4,653.2 262.6,654 261.8,650.4 261,651.2 260.2,651.3 259.4,650.1 258.6,650.4 257.8,649.2 257,649.9 256.2,650.2 255.4,646.8 254.6,646.1 253.8,647.3 253,644.9 252.2,644.8 251.4,640.4 250.6,641.2 249.8,637.5 249,637.5 248.2,637.8 247.4,637.8 246.6,635.2 245.8,633.5 245,628.5 244.2,630.1 243.4,628.3 242.6,625.6 241.8,624.9 241,623.3 240.2,618.8 239.4,617.2 238.6,613.2 237.8,612.4 237,611.6 236.2,606.7 235.4,609.5 234.6,604.7 233.8,605.6 233,603.2 232.2,602.6 231.4,603.7" fill="#ef4444" fill-opacity="0.14"/>
<circle cx="1394.8" cy="847.4" r="11" fill="#ffb3c1" stroke="#d90429" stroke-width="3.8"/>
<circle cx="1536" cy="954.4" r="11" fill="#8ce99a" stroke="#087f5b" stroke-width="3.8"/>
<line x1="1394.8" y1="835" x2="1394.8" y2="847.4" stroke="#d90429" stroke-width="3.1"/>
<text transform="translate(1394.7,827.5) scale(1.049,1)" font-size="26.4" font-weight="bold" fill="#d90429" text-anchor="middle">Peak: May 2026</text>
<text transform="translate(1535.4,973.5) scale(1.049,1)" font-size="26.4" font-weight="bold" fill="#087f5b" text-anchor="middle">Trough: Nov 2026</text>
<g font-size="26.67" fill="#495057" letter-spacing="0.5">
<text x="132.7" y="158.9" text-anchor="end">$12</text>
<text x="132.7" y="360.4" text-anchor="end">$9</text>
<text x="132.7" y="561.9" text-anchor="end">$6</text>
<text x="132.7" y="763.4" text-anchor="end">$3</text>
<text x="132.7" y="964.8" text-anchor="end">$0</text>
<text x="407.7" y="1028" text-anchor="middle">2023</text>
<text x="700.05" y="1028" text-anchor="middle">2024</text>
<text x="993.2" y="1028" text-anchor="middle">2025</text>
<text x="1285.55" y="1028" text-anchor="middle">2026</text>
<text x="1577.9" y="1028" text-anchor="middle">2027</text>
</g>
<text transform="translate(938.8,1065) scale(1.047,1)" font-size="31.8" fill="#495057" text-anchor="middle">Date</text>
<text transform="translate(65.9,558.8) rotate(-90) scale(1.047,1)" font-size="31.8" fill="#495057" text-anchor="middle">Price (USD)</text>
<line x1="182" x2="220.4" y1="80.6" y2="80.6" stroke="#4361ee" stroke-width="8.8"/>
<line x1="366.2" x2="404.6" y1="80.6" y2="80.6" stroke="#2b2d42" stroke-width="8.8"/>
<rect x="689" y="59" width="44" height="44" fill="#d3eaf2"/>
<rect x="971" y="59" width="44" height="44" fill="#f7c1c1"/>
<g font-size="24.85" fill="#000">
<text x="241" y="89.5">Forecast</text>
<text x="425" y="89.5">Historical Price</text>
<text x="750" y="89.5">60% Confidence</text>
<text x="1033" y="89.5">Potential Resistance</text>
</g>
</svg>
</body></html>
